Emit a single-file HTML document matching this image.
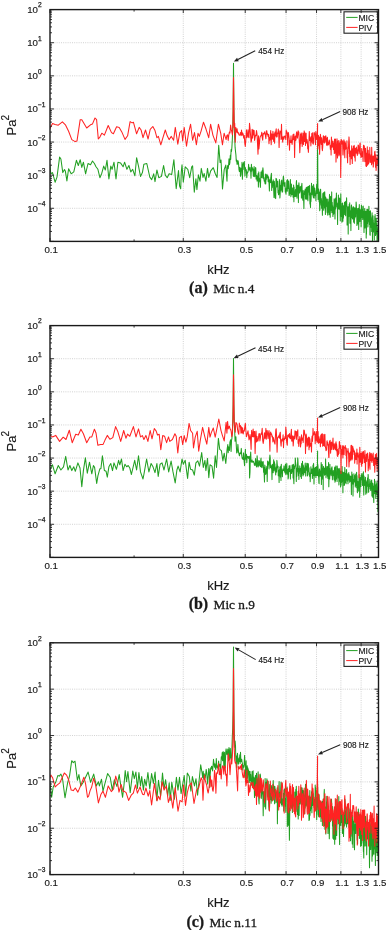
<!DOCTYPE html>
<html><head><meta charset="utf-8"><style>
html,body{margin:0;padding:0;background:#fff;width:388px;height:930px;overflow:hidden}
svg{display:block;filter:blur(0.3px)}
text{font-family:"Liberation Sans",sans-serif;fill:#1a1a1a;stroke:#1a1a1a;stroke-width:0.25px}
.tl{font-size:9.7px;stroke-width:0.15px}
.ts{font-size:6.6px}
.al{font-size:13px;stroke-width:0.15px}
.sup{font-size:10px}
.lg{font-size:8.6px;stroke-width:0.15px}
.an{font-size:8.2px;stroke-width:0.15px}
.cap{font-family:"Liberation Serif",serif;font-size:13.3px;stroke-width:0.3px}
.capb{font-family:"Liberation Serif",serif;font-size:16px;font-weight:bold;stroke-width:0.3px}
</style></head><body>
<svg width="388" height="930" viewBox="0 0 388 930">
<line x1="50.0" y1="208.29" x2="378.5" y2="208.29" stroke="#c6c6c6" stroke-width="0.8" stroke-dasharray="1 1.2"/>
<line x1="50.0" y1="175.17" x2="378.5" y2="175.17" stroke="#c6c6c6" stroke-width="0.8" stroke-dasharray="1 1.2"/>
<line x1="50.0" y1="142.06" x2="378.5" y2="142.06" stroke="#c6c6c6" stroke-width="0.8" stroke-dasharray="1 1.2"/>
<line x1="50.0" y1="108.94" x2="378.5" y2="108.94" stroke="#c6c6c6" stroke-width="0.8" stroke-dasharray="1 1.2"/>
<line x1="50.0" y1="75.83" x2="378.5" y2="75.83" stroke="#c6c6c6" stroke-width="0.8" stroke-dasharray="1 1.2"/>
<line x1="50.0" y1="42.71" x2="378.5" y2="42.71" stroke="#c6c6c6" stroke-width="0.8" stroke-dasharray="1 1.2"/>
<line x1="183.27" y1="9.6" x2="183.27" y2="241.4" stroke="#c6c6c6" stroke-width="0.8" stroke-dasharray="1 1.2"/>
<line x1="245.23" y1="9.6" x2="245.23" y2="241.4" stroke="#c6c6c6" stroke-width="0.8" stroke-dasharray="1 1.2"/>
<line x1="286.05" y1="9.6" x2="286.05" y2="241.4" stroke="#c6c6c6" stroke-width="0.8" stroke-dasharray="1 1.2"/>
<line x1="316.53" y1="9.6" x2="316.53" y2="241.4" stroke="#c6c6c6" stroke-width="0.8" stroke-dasharray="1 1.2"/>
<line x1="340.88" y1="9.6" x2="340.88" y2="241.4" stroke="#c6c6c6" stroke-width="0.8" stroke-dasharray="1 1.2"/>
<line x1="361.14" y1="9.6" x2="361.14" y2="241.4" stroke="#c6c6c6" stroke-width="0.8" stroke-dasharray="1 1.2"/>
<line x1="50.0" y1="524.29" x2="378.5" y2="524.29" stroke="#c6c6c6" stroke-width="0.8" stroke-dasharray="1 1.2"/>
<line x1="50.0" y1="491.17" x2="378.5" y2="491.17" stroke="#c6c6c6" stroke-width="0.8" stroke-dasharray="1 1.2"/>
<line x1="50.0" y1="458.06" x2="378.5" y2="458.06" stroke="#c6c6c6" stroke-width="0.8" stroke-dasharray="1 1.2"/>
<line x1="50.0" y1="424.94" x2="378.5" y2="424.94" stroke="#c6c6c6" stroke-width="0.8" stroke-dasharray="1 1.2"/>
<line x1="50.0" y1="391.83" x2="378.5" y2="391.83" stroke="#c6c6c6" stroke-width="0.8" stroke-dasharray="1 1.2"/>
<line x1="50.0" y1="358.71" x2="378.5" y2="358.71" stroke="#c6c6c6" stroke-width="0.8" stroke-dasharray="1 1.2"/>
<line x1="183.27" y1="325.6" x2="183.27" y2="557.4" stroke="#c6c6c6" stroke-width="0.8" stroke-dasharray="1 1.2"/>
<line x1="245.23" y1="325.6" x2="245.23" y2="557.4" stroke="#c6c6c6" stroke-width="0.8" stroke-dasharray="1 1.2"/>
<line x1="286.05" y1="325.6" x2="286.05" y2="557.4" stroke="#c6c6c6" stroke-width="0.8" stroke-dasharray="1 1.2"/>
<line x1="316.53" y1="325.6" x2="316.53" y2="557.4" stroke="#c6c6c6" stroke-width="0.8" stroke-dasharray="1 1.2"/>
<line x1="340.88" y1="325.6" x2="340.88" y2="557.4" stroke="#c6c6c6" stroke-width="0.8" stroke-dasharray="1 1.2"/>
<line x1="361.14" y1="325.6" x2="361.14" y2="557.4" stroke="#c6c6c6" stroke-width="0.8" stroke-dasharray="1 1.2"/>
<line x1="50.0" y1="828.24" x2="378.5" y2="828.24" stroke="#c6c6c6" stroke-width="0.8" stroke-dasharray="1 1.2"/>
<line x1="50.0" y1="781.88" x2="378.5" y2="781.88" stroke="#c6c6c6" stroke-width="0.8" stroke-dasharray="1 1.2"/>
<line x1="50.0" y1="735.52" x2="378.5" y2="735.52" stroke="#c6c6c6" stroke-width="0.8" stroke-dasharray="1 1.2"/>
<line x1="50.0" y1="689.16" x2="378.5" y2="689.16" stroke="#c6c6c6" stroke-width="0.8" stroke-dasharray="1 1.2"/>
<line x1="183.27" y1="642.8" x2="183.27" y2="874.6" stroke="#c6c6c6" stroke-width="0.8" stroke-dasharray="1 1.2"/>
<line x1="245.23" y1="642.8" x2="245.23" y2="874.6" stroke="#c6c6c6" stroke-width="0.8" stroke-dasharray="1 1.2"/>
<line x1="286.05" y1="642.8" x2="286.05" y2="874.6" stroke="#c6c6c6" stroke-width="0.8" stroke-dasharray="1 1.2"/>
<line x1="316.53" y1="642.8" x2="316.53" y2="874.6" stroke="#c6c6c6" stroke-width="0.8" stroke-dasharray="1 1.2"/>
<line x1="340.88" y1="642.8" x2="340.88" y2="874.6" stroke="#c6c6c6" stroke-width="0.8" stroke-dasharray="1 1.2"/>
<line x1="361.14" y1="642.8" x2="361.14" y2="874.6" stroke="#c6c6c6" stroke-width="0.8" stroke-dasharray="1 1.2"/>
<clipPath id="c0"><rect x="50.0" y="9.6" width="328.5" height="231.8"/></clipPath>
<g clip-path="url(#c0)" fill="none" stroke-width="1.05" stroke-linejoin="round">
<path d="M49.9 166.1L50.8 173.8L52.5 172.6L55.1 182.2L57.0 177.1L59.6 157.1L60.9 159.0L62.8 172.6L64.5 169.6L65.4 171.3L66.9 180.9L68.6 168.7L71.2 173.8L73.8 171.9L76.4 160.3L78.3 165.5L80.2 159.7L81.8 167.4L83.4 162.2L85.6 173.8L88.0 163.5L90.5 164.8L92.5 161.0L94.4 163.5L96.0 166.8L97.9 169.3L99.9 177.7L101.8 173.2L103.7 166.1L105.3 170.0L107.0 160.3L108.9 179.0L110.8 166.1L112.1 169.3L114.0 162.2L116.0 179.0L117.9 162.2L120.5 162.9L123.1 166.8L124.6 162.2L126.9 169.3L128.9 165.5L130.8 171.9L132.7 169.3L134.9 175.8L136.6 157.7L138.5 166.1L140.5 176.4L142.4 172.6L143.9 164.2L146.8 163.5L149.8 177.1L151.7 179.6L153.7 173.8L155.0 181.6L156.9 170.0L158.8 177.7L161.4 176.4L163.6 165.5L165.3 175.1L167.2 177.7L169.1 173.8L171.7 174.5L173.9 159.7L176.2 188.7L178.5 170.6L179.6 186.0L180.7 188.7L181.3 172.0L182.0 164.8L183.3 182.2L185.2 166.8L187.8 169.3L189.7 177.7L191.7 166.8L192.6 165.8L194.3 192.2L195.9 178.7L196.9 189.6L198.4 174.8L200.0 181.2L201.3 168.4L203.0 177.4L204.2 173.5L205.9 181.2L207.5 168.4L208.8 177.4L210.7 170.9L213.3 167.7L215.2 173.5L217.1 177.4L218.7 145.2L220.1 162.6L221.0 160.0L222.5 189.0L224.2 169.6L225.8 165.1L227.0 181.2L227.4 167.1L227.8 165.4L228.2 168.7L228.6 165.4L229.0 158.7L229.5 164.6L229.9 162.3L230.3 155.3L230.7 159.5L231.1 149.6L231.5 151.5L231.9 147.3L232.3 139.7L232.7 128.9L233.1 110.0L233.5 63.3L233.5 63.3L233.9 110.0L234.3 128.4L234.7 137.7L235.1 147.4L235.5 151.2L235.9 154.7L236.3 161.1L236.7 160.1L237.1 164.5L237.5 163.3L237.9 160.6L238.2 161.3L238.6 164.4L239.0 169.6L239.4 171.6L239.8 167.2L240.2 168.1L240.5 176.3L240.9 174.7L241.3 168.4L241.7 170.7L242.0 162.3L242.4 179.2L242.8 164.0L243.2 169.6L243.5 162.7L243.9 163.8L244.3 161.6L244.6 168.5L245.0 176.1L245.4 167.6L245.7 170.2L246.1 169.5L246.4 170.9L246.8 177.7L247.2 172.1L247.5 172.9L247.9 172.1L248.2 170.8L248.6 164.3L248.9 169.5L249.3 170.0L249.6 169.4L250.0 167.4L250.3 171.1L250.7 170.9L251.0 178.2L251.4 164.3L251.7 171.2L252.1 167.2L252.4 168.7L252.8 168.8L253.1 172.3L253.4 176.5L253.8 170.7L254.1 166.6L254.5 176.3L254.8 176.7L255.1 173.4L255.5 167.6L255.8 168.1L256.1 179.1L256.5 176.1L256.8 175.6L257.1 181.2L257.5 179.5L257.8 178.2L258.1 173.6L258.4 187.1L258.8 171.9L259.1 179.6L259.4 178.0L259.7 181.9L260.1 181.4L260.4 187.4L260.7 178.5L261.0 172.0L261.3 177.4L261.7 177.3L262.0 170.7L262.3 177.9L262.6 171.2L262.9 167.7L263.2 170.7L263.6 178.8L263.9 177.6L264.2 181.2L264.5 180.9L264.8 181.8L265.1 183.8L265.4 174.1L265.7 184.0L266.0 178.2L266.3 179.4L266.6 174.9L266.9 174.3L267.2 177.7L267.6 175.4L267.9 177.0L268.2 181.8L268.5 176.8L268.8 179.4L269.1 184.3L269.4 191.1L269.7 179.7L269.9 180.2L270.2 181.3L270.5 182.7L270.8 177.6L271.1 175.8L271.4 173.2L271.7 190.4L272.0 181.5L272.3 187.7L272.6 184.7L272.9 184.0L273.2 179.8L273.5 182.8L273.7 190.3L274.0 197.5L274.3 181.3L274.6 185.3L274.9 190.5L275.2 198.0L275.5 195.5L275.7 198.6L276.0 178.4L276.3 179.9L276.6 178.9L276.9 186.9L277.2 183.4L277.4 182.1L277.7 181.3L278.0 192.7L278.3 190.2L278.5 194.8L278.8 194.0L279.1 193.3L279.4 179.5L279.6 183.9L279.9 197.9L280.2 193.3L280.5 185.4L280.7 190.9L281.0 184.8L281.3 180.7L281.5 190.0L281.8 180.0L282.1 192.0L282.4 186.5L282.6 192.1L282.9 184.1L283.2 177.9L283.4 176.1L283.7 179.0L284.0 183.8L284.2 186.3L284.5 185.5L284.7 185.8L285.0 182.6L285.3 192.0L285.5 189.9L285.8 193.0L286.0 194.2L286.3 188.1L286.6 191.1L286.8 180.5L287.1 187.1L287.3 191.2L287.6 179.5L287.9 183.9L288.1 188.4L288.4 183.7L288.6 181.1L288.9 189.3L289.1 195.5L289.4 194.4L289.6 188.9L289.9 193.4L290.1 186.0L290.4 179.6L290.6 190.8L290.9 196.6L291.1 187.7L291.4 184.0L291.6 188.5L291.9 194.6L292.1 191.0L292.4 187.9L292.6 194.5L292.9 194.3L293.1 197.3L293.4 195.8L293.6 185.0L293.9 201.7L294.1 187.0L294.3 194.6L294.6 195.9L294.8 196.4L295.1 195.7L295.3 191.4L295.5 189.6L295.8 196.6L296.0 194.5L296.3 182.8L296.5 180.6L296.7 190.6L297.0 198.3L297.2 192.4L297.5 190.5L297.7 185.3L297.9 189.2L298.2 185.4L298.4 202.6L298.6 188.2L298.9 182.7L299.1 185.6L299.3 187.1L299.6 193.0L299.8 192.3L300.0 191.6L300.3 186.8L300.5 190.7L300.7 189.8L301.0 186.3L301.2 188.1L301.4 198.1L301.6 186.0L301.9 183.3L302.1 189.0L302.3 193.6L302.5 197.8L302.8 200.3L303.0 194.7L303.2 190.5L303.5 194.9L303.7 202.0L303.9 208.6L304.1 194.8L304.4 194.6L304.6 190.9L304.8 192.2L305.0 193.9L305.2 189.1L305.5 199.0L305.7 190.8L305.9 194.2L306.1 193.7L306.3 187.3L306.6 199.3L306.8 189.3L307.0 188.6L307.2 199.1L307.4 187.3L307.7 186.9L307.9 200.7L308.1 192.1L308.3 192.2L308.5 186.2L308.7 191.9L309.0 188.7L309.2 186.4L309.4 194.9L309.6 185.4L309.8 199.2L310.0 203.9L310.2 201.8L310.5 207.5L310.7 193.0L310.9 201.6L311.1 198.5L311.3 193.4L311.5 183.2L311.7 194.6L311.9 191.6L312.1 192.1L312.4 186.0L312.6 194.2L312.8 190.0L313.0 195.9L313.2 189.3L313.4 197.8L313.6 184.5L313.8 187.1L314.0 191.1L314.2 198.1L314.4 189.9L314.6 188.0L314.8 190.8L315.0 193.7L315.2 195.8L315.5 193.7L315.7 194.8L315.9 200.8L316.1 191.7L316.3 189.9L316.5 187.5L316.7 184.4L316.9 193.6L317.1 192.6L317.3 188.7L317.6 135.0L317.5 169.7L317.7 152.8L317.9 184.3L318.1 199.5L318.3 194.5L318.5 188.9L318.7 190.0L318.9 197.0L319.1 201.8L319.3 192.0L319.5 200.1L319.7 210.7L319.9 209.9L320.1 196.8L320.3 193.8L320.4 189.5L320.6 189.2L320.8 194.2L321.0 201.8L321.2 205.1L321.4 198.5L321.6 208.3L321.8 200.7L322.0 206.6L322.2 206.3L322.4 215.2L322.6 202.4L322.8 193.6L323.0 204.9L323.2 193.1L323.3 198.2L323.5 198.1L323.7 210.3L323.9 192.6L324.1 199.8L324.3 204.9L324.5 207.9L324.7 191.8L324.9 196.7L325.1 196.3L325.2 200.0L325.4 214.4L325.6 201.9L325.8 197.4L326.0 206.6L326.2 200.8L326.4 204.5L326.6 201.0L326.7 199.1L326.9 206.4L327.1 211.9L327.3 212.8L327.5 203.2L327.7 215.1L327.9 199.1L328.0 200.5L328.2 212.0L328.4 205.8L328.6 212.1L328.8 202.0L329.0 202.5L329.1 214.8L329.3 202.4L329.5 194.4L329.7 207.1L329.9 202.9L330.0 201.2L330.2 217.2L330.4 208.9L330.6 196.4L330.8 206.5L330.9 204.9L331.1 210.4L331.3 202.5L331.5 201.3L331.7 191.9L331.8 212.6L332.0 210.1L332.2 202.2L332.4 206.9L332.5 209.1L332.7 205.8L332.9 216.5L333.1 207.2L333.3 214.4L333.4 207.8L333.6 209.2L333.8 213.7L334.0 203.7L334.1 198.8L334.3 201.2L334.5 205.0L334.7 208.9L334.8 208.3L335.0 219.0L335.2 202.2L335.3 198.8L335.5 209.1L335.7 199.8L335.9 199.1L336.0 197.5L336.2 203.7L336.4 193.0L336.6 201.4L336.7 207.0L336.9 202.9L337.1 203.1L337.2 205.8L337.4 208.2L337.6 224.5L337.7 208.3L337.9 206.0L338.1 206.0L338.3 201.5L338.4 195.1L338.6 207.0L338.8 209.0L338.9 203.0L339.1 209.2L339.3 201.8L339.4 208.4L339.6 198.0L339.8 204.9L339.9 199.5L340.1 208.9L340.3 220.8L340.4 210.0L340.6 205.0L340.8 193.8L340.9 202.1L341.1 207.2L341.3 213.2L341.4 216.4L341.6 207.1L341.8 215.5L341.9 222.3L342.1 207.8L342.2 203.3L342.4 205.9L342.6 203.1L342.7 208.1L342.9 221.2L343.1 205.5L343.2 215.9L343.4 215.9L343.5 217.9L343.7 205.9L343.9 211.4L344.0 210.1L344.2 208.6L344.4 206.3L344.5 202.3L344.7 214.6L344.8 207.9L345.0 206.7L345.2 214.3L345.3 201.8L345.5 207.1L345.6 215.7L345.8 204.3L346.0 201.1L346.1 206.2L346.3 203.4L346.4 202.3L346.6 197.8L346.7 203.9L346.9 206.0L347.1 225.1L347.2 220.5L347.4 216.4L347.5 207.4L347.7 220.0L347.8 206.9L348.0 207.5L348.2 234.1L348.3 219.4L348.5 206.8L348.6 210.8L348.8 211.2L348.9 216.4L349.1 212.3L349.2 204.4L349.4 208.5L349.5 207.7L349.7 202.7L349.9 223.3L350.0 210.8L350.2 217.7L350.3 211.6L350.5 210.9L350.6 218.7L350.8 221.9L350.9 230.6L351.1 209.9L351.2 206.7L351.4 205.2L351.5 205.0L351.7 217.5L351.8 212.2L352.0 207.5L352.1 212.8L352.3 215.8L352.4 218.9L352.6 218.8L352.7 215.9L352.9 208.8L353.0 212.3L353.2 206.5L353.3 212.8L353.5 207.3L353.6 222.1L353.8 222.1L353.9 221.5L354.1 211.5L354.2 213.5L354.4 223.3L354.5 207.8L354.7 218.9L354.8 212.3L355.0 215.4L355.1 208.0L355.3 211.4L355.4 215.5L355.6 217.0L355.7 213.8L355.8 212.3L356.0 207.8L356.1 202.0L356.3 204.6L356.4 206.0L356.6 214.1L356.7 210.3L356.9 225.5L357.0 221.5L357.2 223.9L357.3 213.7L357.4 222.9L357.6 208.5L357.7 222.9L357.9 209.3L358.0 224.0L358.2 222.4L358.3 217.7L358.5 208.2L358.6 214.3L358.7 229.4L358.9 211.9L359.0 210.6L359.2 210.6L359.3 204.5L359.4 210.1L359.6 211.3L359.7 218.8L359.9 221.7L360.0 212.8L360.2 209.6L360.3 210.9L360.4 218.3L360.6 211.2L360.7 212.3L360.9 215.8L361.0 213.0L361.1 226.7L361.3 213.4L361.4 205.0L361.6 214.8L361.7 213.7L361.8 206.2L362.0 211.7L362.1 217.4L362.3 209.3L362.4 212.5L362.5 210.6L362.7 219.5L362.8 213.3L362.9 214.6L363.1 211.5L363.2 206.0L363.4 212.9L363.5 215.8L363.6 212.2L363.8 218.4L363.9 224.8L364.0 232.5L364.2 213.3L364.3 211.3L364.5 212.9L364.6 212.2L364.7 208.5L364.9 212.1L365.0 227.9L365.1 223.7L365.3 218.6L365.4 222.6L365.5 213.9L365.7 224.8L365.8 227.0L365.9 211.3L366.1 217.4L366.2 238.1L366.3 222.9L366.5 234.0L366.6 219.8L366.7 217.2L366.9 209.3L367.0 221.8L367.1 223.4L367.3 218.6L367.4 210.2L367.5 212.6L367.7 216.0L367.8 209.4L367.9 226.9L368.1 223.2L368.2 216.5L368.3 212.7L368.5 219.7L368.6 218.7L368.7 221.1L368.9 206.3L369.0 212.2L369.1 213.2L369.3 222.3L369.4 211.2L369.5 224.4L369.7 217.7L369.8 213.4L369.9 234.7L370.0 221.9L370.2 235.2L370.3 217.0L370.4 210.8L370.6 214.7L370.7 218.1L370.8 216.7L371.0 218.9L371.1 227.3L371.2 221.6L371.3 219.4L371.5 219.7L371.6 225.2L371.7 231.4L371.9 222.8L372.0 223.7L372.1 212.8L372.2 230.7L372.4 222.6L372.5 243.9L372.6 224.2L372.7 220.2L372.9 225.6L373.0 215.8L373.1 219.7L373.3 220.1L373.4 230.4L373.5 231.7L373.6 231.9L373.8 223.4L373.9 223.3L374.0 227.7L374.1 227.5L374.3 239.9L374.4 228.8L374.5 229.1L374.6 227.7L374.8 216.2L374.9 227.7L375.0 222.3L375.1 214.5L375.3 219.9L375.4 224.0L375.5 235.5L375.6 225.8L375.8 232.2L375.9 234.3L376.0 228.5L376.1 225.8L376.3 218.2L376.4 230.7L376.5 223.6L376.6 230.5L376.7 223.3L376.9 229.8L377.0 237.4L377.1 244.2L377.2 245.6L377.4 234.4L377.5 233.1L377.6 235.5L377.7 239.1L377.9 231.8L378.0 227.4L378.1 233.8L378.2 231.8L378.3 218.4L378.5 233.2" stroke="#22a022"/>
<path d="M49.5 129.3L52.5 123.5L55.1 124.4L58.3 125.2L62.4 121.9L65.4 124.8L68.6 131.3L71.8 139.6L75.1 141.6L77.0 140.9L80.2 119.7L81.8 119.7L86.7 128.0L90.5 124.8L92.5 123.9L95.0 118.0L96.6 119.7L98.3 139.0L99.9 137.1L101.8 133.2L104.4 135.1L108.2 125.5L111.5 132.6L113.4 133.8L116.6 126.8L119.2 127.4L121.8 131.9L125.0 139.4L127.6 135.8L130.1 121.6L132.1 122.9L133.4 122.2L136.6 133.8L139.2 127.4L141.1 130.0L143.0 137.7L145.5 130.0L148.1 139.0L150.2 129.3L152.8 126.5L155.0 130.6L156.9 137.7L158.4 136.4L160.8 144.8L163.1 137.1L165.3 130.0L167.2 135.8L169.1 139.6L171.3 136.4L173.6 140.3L175.3 127.4L177.8 144.2L179.8 132.6L181.6 130.6L182.7 140.9L184.2 127.4L186.5 146.1L188.5 133.2L190.6 124.2L192.6 140.3L194.5 132.6L196.4 144.8L198.0 133.2L199.3 136.4L201.0 131.3L203.5 122.2L206.1 129.3L208.7 137.7L210.6 124.2L212.9 135.1L215.8 142.9L218.4 124.2L220.7 133.2L222.5 144.8L224.1 133.2L226.1 139.6L226.9 135.4L227.6 134.8L228.2 140.4L228.8 135.1L229.4 132.1L230.0 133.0L230.6 125.0L231.2 129.4L231.8 131.8L232.4 134.9L233.0 124.3L233.5 77.6L233.6 82.6L234.2 127.4L234.7 123.2L235.3 142.3L235.9 127.6L236.5 132.1L237.1 128.8L237.6 132.9L238.2 132.4L238.8 134.4L239.3 135.3L239.9 134.7L240.4 132.5L241.0 135.7L241.5 130.1L242.1 135.3L242.6 132.9L243.2 134.3L243.7 138.1L244.3 135.6L244.8 143.3L245.3 146.5L245.9 138.8L246.4 129.8L246.9 137.7L247.4 136.1L248.0 129.8L248.5 136.9L249.0 137.7L249.5 123.3L250.0 128.3L250.5 134.5L251.1 142.2L251.6 139.8L252.1 129.3L252.6 138.1L253.1 129.9L253.6 134.9L254.1 130.4L254.6 140.4L255.1 137.3L255.6 135.0L256.0 135.6L256.5 130.5L257.0 134.0L257.5 142.9L258.0 154.3L258.5 135.7L258.9 148.9L259.4 144.1L259.9 138.1L260.4 136.0L260.8 136.1L261.3 135.1L261.8 132.2L262.2 137.3L262.7 140.2L263.2 133.4L263.6 134.0L264.1 134.0L264.5 131.8L265.0 133.5L265.4 135.5L265.9 138.8L266.3 131.0L266.8 130.8L267.2 134.5L267.7 133.8L268.1 136.4L268.6 134.6L269.0 143.7L269.4 137.5L269.9 140.2L270.3 135.6L270.7 130.6L271.2 144.7L271.6 133.9L272.0 136.7L272.5 139.3L272.9 131.3L273.3 135.9L273.7 141.5L274.2 133.8L274.6 143.3L275.0 132.0L275.4 136.3L275.8 131.5L276.2 128.8L276.6 137.0L277.1 136.7L277.5 132.7L277.9 133.4L278.3 129.1L278.7 134.0L279.1 147.6L279.5 135.3L279.9 130.8L280.3 131.5L280.7 131.6L281.1 139.5L281.5 124.2L281.9 138.8L282.3 137.5L282.7 142.2L283.1 136.2L283.5 139.2L283.8 139.0L284.2 137.5L284.6 136.2L285.0 136.0L285.4 136.5L285.8 139.8L286.2 130.0L286.5 132.5L286.9 131.7L287.3 134.5L287.7 145.0L288.0 133.1L288.4 132.6L288.8 135.9L289.2 138.9L289.5 150.3L289.9 140.7L290.3 141.5L290.6 142.5L291.0 135.8L291.4 142.8L291.7 140.4L292.1 144.4L292.5 139.6L292.8 135.9L293.2 134.4L293.5 139.7L293.9 134.0L294.3 140.0L294.6 157.5L295.0 137.7L295.3 136.0L295.7 140.6L296.0 139.9L296.4 133.4L296.7 131.9L297.1 134.6L297.4 138.1L297.8 135.0L298.1 130.8L298.5 134.1L298.8 131.9L299.1 138.2L299.5 143.8L299.8 152.8L300.2 145.1L300.5 134.1L300.8 143.8L301.2 132.9L301.5 134.7L301.9 139.1L302.2 146.5L302.5 142.5L302.9 133.1L303.2 134.6L303.5 144.4L303.8 138.1L304.2 130.9L304.5 141.5L304.8 132.4L305.2 136.9L305.5 145.4L305.8 135.1L306.1 133.2L306.4 143.1L306.8 139.2L307.1 139.7L307.4 142.0L307.7 148.8L308.0 146.5L308.4 152.4L308.7 145.2L309.0 139.3L309.3 131.6L309.6 140.6L309.9 137.1L310.3 139.3L310.6 139.8L310.9 145.9L311.2 136.5L311.5 142.2L311.8 133.5L312.1 135.1L312.4 132.7L312.7 143.2L313.0 137.9L313.3 144.3L313.6 140.9L313.9 133.4L314.2 132.4L314.6 134.5L314.9 133.8L315.2 139.0L315.5 144.8L315.8 131.6L316.0 132.2L316.3 138.8L316.6 139.4L316.9 134.7L317.2 138.7L317.6 123.5L317.5 138.3L317.8 149.3L318.1 145.2L318.4 135.3L318.7 138.8L319.0 145.4L319.3 136.9L319.6 154.3L319.9 145.8L320.1 143.7L320.4 134.3L320.7 136.9L321.0 138.8L321.3 144.4L321.6 137.7L321.9 140.2L322.1 148.4L322.4 150.7L322.7 147.3L323.0 141.0L323.3 135.7L323.6 136.0L323.8 142.2L324.1 139.7L324.4 136.6L324.7 143.1L324.9 138.7L325.2 141.9L325.5 136.7L325.8 135.7L326.0 137.3L326.3 138.5L326.6 144.9L326.9 145.0L327.1 145.6L327.4 137.3L327.7 141.4L327.9 142.5L328.2 144.9L328.5 144.5L328.8 143.2L329.0 141.8L329.3 140.0L329.6 142.7L329.8 144.4L330.1 145.5L330.4 149.5L330.6 146.1L330.9 146.5L331.1 155.0L331.4 137.1L331.7 144.1L331.9 139.7L332.2 147.2L332.5 143.0L332.7 146.6L333.0 141.2L333.2 145.8L333.5 149.6L333.7 144.1L334.0 143.1L334.3 153.5L334.5 139.0L334.8 141.5L335.0 146.5L335.3 152.9L335.5 139.1L335.8 145.2L336.0 162.1L336.3 153.0L336.5 155.0L336.8 144.7L337.0 138.7L337.3 145.7L337.5 158.0L337.8 149.0L338.0 142.4L338.3 140.6L338.5 145.4L338.8 154.9L339.0 155.9L339.3 153.6L339.5 142.8L339.8 146.2L340.0 140.9L340.3 154.7L340.5 146.5L340.7 177.4L341.0 156.7L341.2 139.3L341.5 142.0L341.7 143.9L342.0 140.4L342.2 143.7L342.4 141.1L342.7 145.8L342.9 154.6L343.1 155.1L343.4 147.7L343.6 141.6L343.9 139.8L344.1 140.9L344.3 146.6L344.6 151.7L344.8 157.8L345.0 141.7L345.3 143.7L345.5 143.3L345.7 149.2L346.0 148.5L346.2 148.5L346.4 148.1L346.7 148.2L346.9 140.7L347.1 157.8L347.4 152.9L347.6 162.7L347.8 151.6L348.0 153.8L348.3 147.0L348.5 148.5L348.7 141.8L349.0 136.9L349.2 139.7L349.4 144.4L349.6 156.5L349.9 151.3L350.1 164.4L350.3 152.5L350.5 156.5L350.8 155.3L351.0 150.3L351.2 151.2L351.4 158.8L351.7 145.8L351.9 157.2L352.1 152.9L352.3 163.4L352.5 148.7L352.8 152.6L353.0 155.4L353.2 153.3L353.4 146.4L353.6 146.8L353.9 155.9L354.1 145.3L354.3 146.0L354.5 150.2L354.7 157.6L354.9 150.4L355.2 161.1L355.4 148.2L355.6 150.7L355.8 150.8L356.0 153.0L356.2 150.4L356.4 147.0L356.7 153.1L356.9 151.1L357.1 152.3L357.3 155.5L357.5 153.7L357.7 149.1L357.9 150.8L358.1 145.0L358.3 145.3L358.6 145.9L358.8 150.7L359.0 154.0L359.2 152.6L359.4 149.5L359.6 151.8L359.8 145.4L360.0 143.0L360.2 143.0L360.4 153.4L360.6 155.1L360.8 153.7L361.0 157.6L361.3 156.2L361.5 155.3L361.7 148.5L361.9 151.9L362.1 156.4L362.3 153.2L362.5 151.8L362.7 156.2L362.9 157.6L363.1 161.5L363.3 150.6L363.5 145.2L363.7 145.3L363.9 149.3L364.1 146.6L364.3 145.9L364.5 149.5L364.7 158.1L364.9 161.8L365.1 159.2L365.3 155.2L365.5 148.2L365.7 152.8L365.9 166.0L366.1 161.3L366.3 161.4L366.5 166.5L366.7 153.0L366.9 154.3L367.1 155.9L367.3 146.7L367.5 165.3L367.6 162.8L367.8 160.4L368.0 161.2L368.2 150.3L368.4 164.1L368.6 159.8L368.8 163.3L369.0 157.2L369.2 153.9L369.4 157.6L369.6 158.7L369.8 147.4L370.0 158.6L370.1 162.2L370.3 162.4L370.5 160.6L370.7 160.0L370.9 159.1L371.1 154.8L371.3 155.2L371.5 164.7L371.7 147.3L371.9 155.4L372.0 162.1L372.2 162.0L372.4 157.4L372.6 160.4L372.8 163.9L373.0 156.0L373.2 167.1L373.3 166.9L373.5 162.4L373.7 156.0L373.9 158.4L374.1 161.0L374.3 161.2L374.5 156.3L374.6 152.4L374.8 151.7L375.0 151.2L375.2 160.4L375.4 164.0L375.6 167.4L375.7 159.2L375.9 154.8L376.1 170.5L376.3 167.3L376.5 161.0L376.6 158.1L376.8 164.5L377.0 164.3L377.2 160.2L377.4 158.8L377.5 159.6L377.7 163.4L377.9 155.3L378.1 161.0L378.3 165.3L378.4 172.9" stroke="#f22"/>
</g>
<clipPath id="c1"><rect x="50.0" y="325.6" width="328.5" height="231.79999999999995"/></clipPath>
<g clip-path="url(#c1)" fill="none" stroke-width="1.05" stroke-linejoin="round">
<path d="M49.9 470.0L52.5 464.8L55.1 473.8L58.3 465.5L60.9 470.0L63.5 466.8L65.7 456.4L68.0 470.0L69.9 465.5L71.8 470.6L73.8 466.8L75.3 471.3L77.9 462.9L80.0 468.0L81.8 486.7L83.4 470.6L85.4 457.7L87.3 473.2L89.5 462.2L91.8 473.8L93.4 465.5L94.6 467.4L96.7 483.5L97.9 475.8L99.9 468.7L100.9 468.7L102.4 455.8L104.4 470.6L106.1 471.3L107.3 477.1L108.9 466.8L110.8 463.5L112.5 470.6L114.0 462.9L116.4 469.3L118.6 460.3L119.8 464.8L121.5 459.0L123.1 470.6L125.0 464.2L126.7 466.8L128.2 465.5L129.8 468.0L131.4 474.5L134.7 460.3L136.6 470.0L138.5 455.8L140.5 471.9L143.0 479.0L144.0 473.8L146.6 459.0L148.9 471.9L151.1 463.5L153.0 466.8L155.0 472.6L156.9 463.5L158.2 476.4L160.1 464.2L162.0 462.9L164.0 470.0L166.6 459.0L168.7 471.9L171.1 461.0L173.0 471.9L175.2 482.9L176.9 470.0L178.1 466.1L180.1 471.9L182.0 459.0L183.3 464.2L185.2 460.3L187.6 478.4L189.1 462.2L190.6 469.3L192.6 470.0L194.3 475.1L195.9 462.9L197.8 460.9L199.5 466.1L201.7 452.6L203.3 467.4L204.9 460.3L205.9 470.6L207.5 458.4L208.8 477.7L210.0 464.8L212.0 466.1L213.6 478.3L215.2 455.8L216.5 467.4L218.4 438.4L219.7 449.3L221.4 450.6L222.9 460.9L224.2 453.2L225.8 463.5L227.1 449.3L227.8 444.5L228.2 452.7L228.6 446.8L229.0 448.2L229.5 450.4L229.9 442.3L230.3 440.9L230.7 439.8L231.1 451.4L231.5 440.5L231.9 438.7L232.3 431.9L232.7 424.1L233.1 405.1L233.5 358.6L233.5 358.6L233.9 405.0L234.3 422.6L234.7 431.5L235.1 441.2L235.5 439.1L235.9 436.7L236.3 445.8L236.7 452.9L237.1 452.4L237.5 450.1L237.9 444.4L238.2 448.5L238.6 452.5L239.0 453.8L239.4 455.8L239.8 453.3L240.2 452.9L240.5 452.8L240.9 453.8L241.3 448.4L241.7 455.2L242.0 457.1L242.4 459.0L242.8 457.7L243.2 459.5L243.5 452.9L243.9 459.0L244.3 462.9L244.6 465.7L245.0 455.8L245.4 449.2L245.7 459.1L246.1 458.3L246.4 454.2L246.8 462.8L247.2 456.2L247.5 457.9L247.9 456.4L248.2 456.8L248.6 458.4L248.9 457.2L249.3 456.2L249.6 477.9L250.0 471.9L250.3 458.7L250.7 452.1L251.0 460.0L251.4 462.1L251.7 460.5L252.1 460.0L252.4 462.1L252.8 462.2L253.1 461.8L253.4 461.2L253.8 462.5L254.1 463.2L254.5 465.3L254.8 463.2L255.1 465.5L255.5 458.6L255.8 461.3L256.1 463.5L256.5 467.0L256.8 464.2L257.1 455.7L257.5 461.1L257.8 466.2L258.1 467.0L258.4 465.6L258.8 460.6L259.1 465.7L259.4 460.8L259.7 462.5L260.1 462.9L260.4 466.6L260.7 460.8L261.0 458.1L261.3 466.9L261.7 461.8L262.0 467.7L262.3 465.4L262.6 464.6L262.9 461.5L263.2 461.7L263.6 472.2L263.9 467.3L264.2 474.9L264.5 481.9L264.8 465.1L265.1 466.9L265.4 470.3L265.7 474.4L266.0 473.3L266.3 470.2L266.6 468.2L266.9 466.4L267.2 481.5L267.6 461.0L267.9 464.8L268.2 461.8L268.5 463.9L268.8 465.2L269.1 468.9L269.4 460.9L269.7 457.6L269.9 455.1L270.2 458.0L270.5 467.6L270.8 467.3L271.1 465.4L271.4 469.0L271.7 467.9L272.0 479.6L272.3 464.2L272.6 465.6L272.9 467.1L273.2 472.8L273.5 464.1L273.7 459.7L274.0 470.5L274.3 461.7L274.6 463.7L274.9 464.0L275.2 471.7L275.5 470.9L275.7 474.9L276.0 468.8L276.3 466.9L276.6 472.1L276.9 460.4L277.2 463.7L277.4 465.6L277.7 468.0L278.0 466.3L278.3 475.7L278.5 474.9L278.8 470.7L279.1 482.4L279.4 469.6L279.6 475.9L279.9 467.0L280.2 472.0L280.5 477.1L280.7 466.3L281.0 480.4L281.3 464.3L281.5 471.1L281.8 473.0L282.1 470.4L282.4 476.8L282.6 471.6L282.9 468.9L283.2 470.6L283.4 470.5L283.7 470.0L284.0 465.9L284.2 470.8L284.5 471.3L284.7 471.5L285.0 473.0L285.3 465.4L285.5 464.1L285.8 474.6L286.0 467.7L286.3 472.9L286.6 466.7L286.8 463.4L287.1 474.3L287.3 472.1L287.6 472.6L287.9 469.3L288.1 478.9L288.4 477.5L288.6 468.4L288.9 471.3L289.1 465.9L289.4 471.6L289.6 468.0L289.9 465.5L290.1 468.3L290.4 479.0L290.6 469.7L290.9 471.9L291.1 473.1L291.4 469.4L291.6 473.5L291.9 470.3L292.1 465.1L292.4 471.6L292.6 464.9L292.9 468.3L293.1 477.9L293.4 464.2L293.6 477.9L293.9 483.7L294.1 466.1L294.3 469.2L294.6 468.0L294.8 465.8L295.1 466.1L295.3 458.1L295.5 461.6L295.8 464.3L296.0 464.9L296.3 481.4L296.5 468.1L296.7 476.6L297.0 471.3L297.2 472.0L297.5 466.5L297.7 457.9L297.9 459.6L298.2 467.0L298.4 475.4L298.6 468.3L298.9 479.5L299.1 473.0L299.3 473.6L299.6 470.2L299.8 465.9L300.0 470.3L300.3 470.1L300.5 468.2L300.7 476.7L301.0 476.8L301.2 471.1L301.4 478.5L301.6 463.6L301.9 469.3L302.1 473.6L302.3 468.4L302.5 461.2L302.8 474.6L303.0 476.0L303.2 465.1L303.5 466.9L303.7 474.7L303.9 471.2L304.1 467.9L304.4 471.2L304.6 472.8L304.8 471.0L305.0 466.3L305.2 463.0L305.5 467.8L305.7 476.0L305.9 466.2L306.1 470.0L306.3 466.1L306.6 470.2L306.8 463.3L307.0 469.8L307.2 465.2L307.4 475.9L307.7 474.4L307.9 463.3L308.1 465.5L308.3 463.8L308.5 466.4L308.7 471.8L309.0 467.7L309.2 475.0L309.4 472.7L309.6 476.4L309.8 472.9L310.0 474.0L310.2 481.8L310.5 473.4L310.7 473.8L310.9 466.8L311.1 471.2L311.3 469.8L311.5 473.5L311.7 470.7L311.9 473.3L312.1 468.9L312.4 478.4L312.6 471.8L312.8 474.3L313.0 465.1L313.2 471.4L313.4 475.4L313.6 463.4L313.8 472.8L314.0 484.0L314.2 473.3L314.4 468.5L314.6 472.9L314.8 472.9L315.0 475.6L315.2 467.3L315.5 472.4L315.7 467.4L315.9 477.4L316.1 471.0L316.3 467.4L316.5 475.5L316.7 466.4L316.9 470.7L317.1 468.1L317.3 475.6L317.6 451.0L317.5 471.2L317.7 463.7L317.9 465.4L318.1 467.8L318.3 475.8L318.5 476.1L318.7 477.6L318.9 483.1L319.1 483.7L319.3 470.3L319.5 469.1L319.7 473.0L319.9 471.5L320.1 475.7L320.3 476.2L320.4 473.0L320.6 473.9L320.8 470.0L321.0 469.1L321.2 462.6L321.4 484.5L321.6 469.6L321.8 476.9L322.0 479.2L322.2 464.5L322.4 472.4L322.6 476.1L322.8 475.5L323.0 468.4L323.2 489.5L323.3 474.4L323.5 466.4L323.7 473.0L323.9 468.2L324.1 472.7L324.3 470.5L324.5 475.2L324.7 468.1L324.9 473.5L325.1 472.6L325.2 474.4L325.4 471.9L325.6 458.9L325.8 468.8L326.0 477.7L326.2 466.3L326.4 469.4L326.6 468.0L326.7 473.9L326.9 472.8L327.1 471.7L327.3 476.1L327.5 466.5L327.7 474.7L327.9 478.5L328.0 468.8L328.2 474.5L328.4 467.1L328.6 462.6L328.8 486.7L329.0 477.5L329.1 472.5L329.3 473.3L329.5 468.3L329.7 479.0L329.9 464.2L330.0 470.3L330.2 469.9L330.4 469.9L330.6 471.7L330.8 474.4L330.9 470.7L331.1 475.8L331.3 468.0L331.5 468.8L331.7 467.5L331.8 473.9L332.0 466.7L332.2 469.7L332.4 479.7L332.5 474.1L332.7 473.4L332.9 472.1L333.1 473.4L333.3 470.5L333.4 472.7L333.6 476.0L333.8 472.2L334.0 479.2L334.1 474.5L334.3 480.0L334.5 468.8L334.7 467.1L334.8 468.0L335.0 482.3L335.2 477.6L335.3 474.7L335.5 481.0L335.7 467.9L335.9 465.8L336.0 468.9L336.2 474.2L336.4 478.9L336.6 477.5L336.7 478.8L336.9 473.1L337.1 481.5L337.2 466.1L337.4 473.1L337.6 473.5L337.7 473.1L337.9 468.4L338.1 471.1L338.3 478.0L338.4 469.6L338.6 468.9L338.8 473.7L338.9 484.9L339.1 480.3L339.3 481.4L339.4 474.5L339.6 472.7L339.8 468.4L339.9 481.2L340.1 479.3L340.3 472.5L340.4 478.6L340.6 487.0L340.8 476.4L340.9 471.0L341.1 485.2L341.3 476.1L341.4 477.9L341.6 482.5L341.8 481.5L341.9 479.1L342.1 466.4L342.2 478.0L342.4 472.3L342.6 472.0L342.7 475.1L342.9 492.8L343.1 476.2L343.2 476.2L343.4 472.7L343.5 473.5L343.7 473.5L343.9 472.2L344.0 472.9L344.2 485.5L344.4 477.3L344.5 484.5L344.7 473.8L344.8 467.4L345.0 475.3L345.2 482.7L345.3 481.3L345.5 473.6L345.6 477.9L345.8 479.7L346.0 477.6L346.1 483.8L346.3 474.0L346.4 469.6L346.6 469.7L346.7 475.0L346.9 480.1L347.1 476.3L347.2 475.7L347.4 479.0L347.5 478.9L347.7 481.7L347.8 473.8L348.0 483.8L348.2 477.1L348.3 480.2L348.5 478.3L348.6 479.8L348.8 472.5L348.9 479.9L349.1 474.3L349.2 474.6L349.4 475.7L349.5 478.1L349.7 482.2L349.9 476.4L350.0 478.0L350.2 481.6L350.3 476.9L350.5 481.1L350.6 476.1L350.8 476.4L350.9 481.3L351.1 480.9L351.2 481.4L351.4 494.6L351.5 478.0L351.7 481.1L351.8 472.0L352.0 480.5L352.1 480.6L352.3 483.9L352.4 474.4L352.6 479.5L352.7 480.7L352.9 480.6L353.0 496.0L353.2 482.5L353.3 483.6L353.5 484.3L353.6 479.4L353.8 482.4L353.9 473.8L354.1 482.0L354.2 475.5L354.4 475.2L354.5 481.2L354.7 479.0L354.8 477.5L355.0 476.4L355.1 476.3L355.3 486.9L355.4 477.5L355.6 478.6L355.7 474.0L355.8 479.4L356.0 485.4L356.1 481.5L356.3 478.7L356.4 478.8L356.6 472.3L356.7 487.7L356.9 475.4L357.0 475.8L357.2 480.7L357.3 490.0L357.4 492.8L357.6 487.3L357.7 485.4L357.9 484.2L358.0 481.6L358.2 483.0L358.3 485.0L358.5 485.0L358.6 486.8L358.7 491.0L358.9 480.5L359.0 478.0L359.2 474.4L359.3 485.5L359.4 477.1L359.6 487.3L359.7 497.2L359.9 478.7L360.0 492.3L360.2 477.6L360.3 487.0L360.4 478.2L360.6 486.4L360.7 486.3L360.9 486.5L361.0 478.2L361.1 475.0L361.3 479.7L361.4 479.9L361.6 478.8L361.7 479.7L361.8 474.0L362.0 473.5L362.1 474.7L362.3 478.6L362.4 483.3L362.5 485.4L362.7 478.6L362.8 476.7L362.9 479.2L363.1 478.9L363.2 476.3L363.4 471.7L363.5 485.9L363.6 488.9L363.8 495.1L363.9 488.0L364.0 475.9L364.2 480.2L364.3 481.0L364.5 480.7L364.6 484.5L364.7 485.1L364.9 480.0L365.0 482.5L365.1 485.4L365.3 483.6L365.4 477.3L365.5 484.0L365.7 489.9L365.8 494.3L365.9 480.3L366.1 481.7L366.2 486.5L366.3 489.0L366.5 484.0L366.6 481.9L366.7 485.7L366.9 493.0L367.0 484.9L367.1 484.2L367.3 484.2L367.4 486.0L367.5 478.0L367.7 486.2L367.8 485.7L367.9 485.0L368.1 474.4L368.2 474.9L368.3 478.4L368.5 489.4L368.6 492.3L368.7 486.4L368.9 486.0L369.0 486.8L369.1 485.3L369.3 485.9L369.4 484.2L369.5 485.1L369.7 481.9L369.8 479.4L369.9 484.2L370.0 488.9L370.2 485.9L370.3 487.8L370.4 485.5L370.6 483.2L370.7 490.6L370.8 487.5L371.0 485.7L371.1 481.1L371.2 482.7L371.3 486.3L371.5 482.4L371.6 485.3L371.7 480.1L371.9 496.0L372.0 496.0L372.1 482.7L372.2 485.3L372.4 485.6L372.5 483.7L372.6 483.3L372.7 497.3L372.9 483.6L373.0 485.0L373.1 486.4L373.3 495.4L373.4 493.9L373.5 485.9L373.6 498.5L373.8 502.5L373.9 487.5L374.0 486.5L374.1 487.8L374.3 489.7L374.4 488.5L374.5 479.3L374.6 481.5L374.8 482.8L374.9 493.6L375.0 480.9L375.1 488.4L375.3 493.7L375.4 485.0L375.5 487.3L375.6 494.0L375.8 498.5L375.9 489.0L376.0 492.6L376.1 489.4L376.3 484.0L376.4 493.4L376.5 486.8L376.6 486.3L376.7 494.0L376.9 482.6L377.0 482.2L377.1 483.4L377.2 492.9L377.4 493.4L377.5 500.5L377.6 493.5L377.7 491.1L377.9 511.7L378.0 493.2L378.1 487.9L378.2 488.1L378.3 486.9L378.5 477.4" stroke="#22a022"/>
<path d="M49.3 435.0L52.5 436.9L55.7 435.4L59.6 441.4L63.2 437.2L66.0 439.5L69.3 430.2L72.2 442.7L75.7 434.3L78.3 435.0L80.9 429.2L83.4 433.7L86.7 442.7L89.9 436.9L91.8 436.9L94.4 429.2L96.0 433.0L97.9 445.3L100.5 444.4L103.1 444.4L105.0 440.1L107.3 435.4L109.9 439.2L112.8 437.6L115.6 426.6L117.9 431.8L120.7 441.4L123.7 430.5L125.9 438.2L127.6 434.1L129.8 436.3L133.4 426.6L136.0 436.9L138.5 428.9L140.5 436.9L142.4 435.6L143.9 439.5L145.9 435.4L147.9 441.4L150.2 430.5L152.0 438.8L154.3 428.5L156.2 431.1L157.5 435.0L159.2 434.3L160.8 449.8L162.7 435.6L164.6 436.3L166.6 442.7L168.5 436.9L169.8 441.4L172.4 439.5L174.9 433.7L176.2 436.3L177.8 453.0L179.4 437.6L181.4 436.3L182.7 444.6L184.2 435.6L185.9 442.1L187.2 436.9L189.1 423.4L190.6 430.5L192.6 433.2L193.5 448.0L195.2 437.1L197.2 431.3L198.7 451.2L200.4 439.6L202.6 427.4L204.9 437.1L206.8 444.1L208.8 427.4L210.0 437.1L211.3 432.6L213.3 428.0L215.2 437.1L216.5 430.6L218.8 419.0L221.0 430.6L222.3 435.1L224.2 440.9L226.1 422.2L226.9 433.3L227.6 421.4L228.2 428.9L228.8 427.3L229.4 426.1L230.0 428.9L230.6 429.4L231.2 431.6L231.8 436.6L232.4 433.7L233.0 419.1L233.5 374.8L233.6 379.6L234.2 422.3L234.7 426.2L235.3 432.3L235.9 422.6L236.5 422.9L237.1 424.7L237.6 429.7L238.2 432.8L238.8 434.3L239.3 423.1L239.9 426.6L240.4 425.5L241.0 433.2L241.5 426.7L242.1 433.0L242.6 427.8L243.2 434.0L243.7 430.8L244.3 431.0L244.8 427.1L245.3 423.2L245.9 430.7L246.4 436.8L246.9 435.3L247.4 433.2L248.0 430.8L248.5 435.2L249.0 439.9L249.5 438.8L250.0 434.5L250.5 438.0L251.1 449.5L251.6 430.4L252.1 436.1L252.6 436.6L253.1 429.0L253.6 436.9L254.1 431.6L254.6 431.6L255.1 453.5L255.6 437.5L256.0 431.0L256.5 441.9L257.0 436.4L257.5 441.1L258.0 440.9L258.5 437.9L258.9 433.7L259.4 433.6L259.9 441.0L260.4 437.7L260.8 433.7L261.3 434.5L261.8 431.9L262.2 428.2L262.7 440.4L263.2 443.5L263.6 440.8L264.1 435.5L264.5 432.7L265.0 438.8L265.4 435.8L265.9 428.4L266.3 439.3L266.8 430.8L267.2 430.6L267.7 435.2L268.1 438.8L268.6 432.5L269.0 430.6L269.4 436.3L269.9 451.3L270.3 433.2L270.7 432.1L271.2 434.7L271.6 433.9L272.0 436.9L272.5 436.1L272.9 442.0L273.3 437.5L273.7 438.9L274.2 441.3L274.6 443.1L275.0 444.1L275.4 437.0L275.8 429.8L276.2 428.7L276.6 436.9L277.1 452.2L277.5 439.0L277.9 437.1L278.3 436.8L278.7 437.2L279.1 435.0L279.5 438.3L279.9 433.4L280.3 432.3L280.7 442.4L281.1 446.3L281.5 440.1L281.9 439.7L282.3 438.9L282.7 441.2L283.1 434.8L283.5 447.7L283.8 440.2L284.2 438.6L284.6 439.6L285.0 436.5L285.4 438.5L285.8 427.1L286.2 431.0L286.5 440.7L286.9 443.6L287.3 445.3L287.7 435.3L288.0 436.6L288.4 434.7L288.8 434.9L289.2 437.4L289.5 433.6L289.9 438.2L290.3 438.5L290.6 438.8L291.0 433.4L291.4 429.3L291.7 441.1L292.1 435.6L292.5 441.2L292.8 436.5L293.2 446.0L293.5 441.8L293.9 436.1L294.3 436.5L294.6 439.0L295.0 430.7L295.3 432.6L295.7 431.5L296.0 436.5L296.4 439.5L296.7 431.5L297.1 435.9L297.4 432.2L297.8 429.8L298.1 443.2L298.5 441.6L298.8 446.5L299.1 439.2L299.5 441.0L299.8 436.6L300.2 438.8L300.5 446.9L300.8 444.3L301.2 443.5L301.5 434.8L301.9 438.0L302.2 440.2L302.5 438.9L302.9 438.1L303.2 442.6L303.5 435.7L303.8 430.1L304.2 430.2L304.5 432.1L304.8 435.1L305.2 435.0L305.5 453.5L305.8 442.2L306.1 434.1L306.4 435.9L306.8 441.3L307.1 446.4L307.4 442.0L307.7 438.2L308.0 445.1L308.4 437.1L308.7 439.4L309.0 449.7L309.3 437.2L309.6 447.3L309.9 438.8L310.3 446.2L310.6 443.4L310.9 444.3L311.2 443.3L311.5 451.9L311.8 438.9L312.1 436.0L312.4 441.5L312.7 437.7L313.0 428.4L313.3 432.7L313.6 434.9L313.9 434.4L314.2 434.3L314.6 431.5L314.9 434.4L315.2 443.8L315.5 434.2L315.8 440.1L316.0 440.2L316.3 431.5L316.6 438.0L316.9 441.4L317.2 442.2L317.6 418.0L317.5 432.0L317.8 441.4L318.1 431.4L318.4 443.2L318.7 443.1L319.0 436.7L319.3 442.4L319.6 441.9L319.9 439.0L320.1 440.7L320.4 446.7L320.7 435.5L321.0 438.8L321.3 434.0L321.6 443.2L321.9 436.7L322.1 441.9L322.4 433.7L322.7 446.3L323.0 442.3L323.3 445.6L323.6 440.4L323.8 434.5L324.1 443.8L324.4 446.2L324.7 441.5L324.9 434.3L325.2 445.6L325.5 447.3L325.8 448.6L326.0 450.8L326.3 448.6L326.6 450.1L326.9 441.6L327.1 440.8L327.4 445.1L327.7 442.4L327.9 444.0L328.2 444.3L328.5 452.3L328.8 457.6L329.0 457.3L329.3 444.5L329.6 441.0L329.8 443.6L330.1 440.3L330.4 444.7L330.6 453.2L330.9 447.6L331.1 443.6L331.4 442.1L331.7 443.7L331.9 449.5L332.2 445.8L332.5 442.5L332.7 442.3L333.0 438.0L333.2 444.5L333.5 449.6L333.7 444.1L334.0 448.9L334.3 443.7L334.5 447.6L334.8 447.5L335.0 445.3L335.3 449.8L335.5 444.9L335.8 443.2L336.0 441.7L336.3 450.7L336.5 443.8L336.8 446.5L337.0 451.5L337.3 456.0L337.5 449.6L337.8 456.4L338.0 451.7L338.3 451.9L338.5 454.5L338.8 448.2L339.0 453.4L339.3 441.8L339.5 441.6L339.8 445.1L340.0 446.2L340.3 448.6L340.5 445.4L340.7 449.0L341.0 473.5L341.2 456.8L341.5 451.5L341.7 449.2L342.0 454.3L342.2 445.5L342.4 446.4L342.7 451.7L342.9 457.9L343.1 451.7L343.4 449.3L343.6 445.8L343.9 452.5L344.1 454.7L344.3 447.4L344.6 447.7L344.8 447.8L345.0 447.8L345.3 445.5L345.5 448.9L345.7 448.8L346.0 455.8L346.2 448.0L346.4 450.2L346.7 466.5L346.9 454.8L347.1 453.8L347.4 451.4L347.6 451.1L347.8 451.7L348.0 448.5L348.3 451.8L348.5 451.7L348.7 458.5L349.0 467.0L349.2 462.4L349.4 453.3L349.6 461.7L349.9 460.6L350.1 457.1L350.3 452.0L350.5 460.1L350.8 458.5L351.0 445.6L351.2 458.6L351.4 451.7L351.7 445.2L351.9 459.9L352.1 454.4L352.3 459.2L352.5 456.7L352.8 446.4L353.0 454.4L353.2 448.0L353.4 451.7L353.6 451.8L353.9 450.1L354.1 451.6L354.3 451.4L354.5 451.2L354.7 463.3L354.9 458.3L355.2 459.3L355.4 455.6L355.6 457.3L355.8 452.9L356.0 459.6L356.2 457.9L356.4 454.5L356.7 454.9L356.9 449.0L357.1 464.1L357.3 455.0L357.5 453.3L357.7 455.0L357.9 454.2L358.1 452.9L358.3 457.1L358.6 455.4L358.8 456.3L359.0 477.8L359.2 462.4L359.4 454.4L359.6 455.8L359.8 447.2L360.0 452.3L360.2 462.3L360.4 457.6L360.6 459.8L360.8 459.4L361.0 453.3L361.3 464.4L361.5 461.0L361.7 466.2L361.9 454.3L362.1 451.7L362.3 456.7L362.5 463.4L362.7 457.3L362.9 453.7L363.1 453.3L363.3 452.4L363.5 451.4L363.7 456.6L363.9 459.0L364.1 455.1L364.3 462.8L364.5 460.3L364.7 459.7L364.9 450.6L365.1 458.7L365.3 458.6L365.5 471.9L365.7 461.3L365.9 457.2L366.1 458.6L366.3 454.2L366.5 460.3L366.7 461.5L366.9 454.1L367.1 453.9L367.3 455.9L367.5 453.8L367.6 453.0L367.8 455.4L368.0 460.0L368.2 470.7L368.4 459.2L368.6 468.2L368.8 465.9L369.0 464.9L369.2 461.5L369.4 456.7L369.6 454.2L369.8 452.4L370.0 469.2L370.1 457.6L370.3 453.8L370.5 453.9L370.7 460.5L370.9 460.0L371.1 458.0L371.3 453.4L371.5 455.8L371.7 461.7L371.9 462.3L372.0 462.4L372.2 456.9L372.4 460.8L372.6 455.9L372.8 454.1L373.0 459.0L373.2 453.0L373.3 455.8L373.5 460.6L373.7 465.5L373.9 459.8L374.1 458.4L374.3 458.2L374.5 459.6L374.6 467.2L374.8 472.3L375.0 464.6L375.2 458.6L375.4 454.4L375.6 455.3L375.7 462.1L375.9 464.3L376.1 460.7L376.3 460.4L376.5 456.3L376.6 453.4L376.8 465.9L377.0 459.4L377.2 470.6L377.4 460.5L377.5 462.4L377.7 459.6L377.9 457.8L378.1 463.1L378.3 463.3L378.4 461.7" stroke="#f22"/>
</g>
<clipPath id="c2"><rect x="50.0" y="642.8" width="328.5" height="231.80000000000007"/></clipPath>
<g clip-path="url(#c2)" fill="none" stroke-width="1.05" stroke-linejoin="round">
<path d="M49.9 782.3L51.6 797.3L53.2 787.0L55.7 782.3L57.8 775.6L59.3 776.1L60.9 774.1L62.4 777.7L65.0 797.8L67.6 782.8L69.6 775.6L71.7 760.7L73.3 762.7L75.0 761.2L77.4 780.3L78.9 774.6L80.8 785.9L83.0 782.8L85.6 777.2L88.1 772.0L90.6 782.3L93.7 774.1L96.3 785.9L98.4 781.8L99.4 785.9L101.5 779.2L103.0 791.1L105.1 782.8L107.6 773.6L110.2 777.2L112.3 790.1L114.4 779.7L116.9 786.4L119.2 774.6L121.1 788.0L122.6 797.3L124.0 784.9L125.2 770.5L126.6 781.8L127.9 771.5L130.2 792.6L132.8 771.0L134.3 778.7L135.9 772.0L137.4 788.5L138.9 772.5L140.5 785.9L141.7 776.6L143.4 790.1L144.6 779.2L146.2 785.9L147.9 772.5L149.8 789.0L151.6 773.6L153.4 783.4L155.1 772.0L156.8 800.4L158.5 780.3L160.6 796.2L162.5 773.0L164.1 789.0L165.6 779.7L167.7 795.7L169.2 782.8L170.2 800.4L171.8 782.3L174.4 799.3L176.4 777.2L178.0 790.1L179.5 777.2L181.1 793.7L184.2 775.6L185.7 796.2L187.3 773.0L189.3 776.6L190.9 791.1L192.4 776.6L194.5 785.9L196.0 778.7L197.6 795.2L200.7 764.8L202.0 772.5L202.7 777.8L203.2 771.2L203.7 779.3L204.2 773.8L204.7 777.3L205.2 778.0L205.7 774.0L206.2 769.4L206.7 772.8L207.2 779.1L207.7 784.1L208.2 775.4L208.7 768.5L209.2 769.3L209.7 787.6L210.2 774.4L210.7 767.9L211.1 769.2L211.6 766.2L212.1 767.1L212.6 770.9L213.1 765.0L213.5 759.2L214.0 763.8L214.5 767.3L214.9 763.7L215.4 768.5L215.9 769.4L216.3 758.5L216.8 767.3L217.3 766.0L217.7 768.2L218.2 766.1L218.6 761.1L219.1 766.2L219.5 766.1L220.0 764.3L220.4 774.6L220.9 764.6L221.3 756.9L221.8 759.1L222.2 752.6L222.6 760.7L223.1 751.5L223.5 754.4L223.9 770.7L224.4 752.3L224.8 763.0L225.2 767.9L225.7 752.6L226.1 748.9L226.5 751.9L226.9 754.6L227.4 753.3L227.8 749.0L228.2 758.7L228.6 760.6L229.0 747.6L229.5 759.9L229.9 755.2L230.3 748.4L230.7 757.3L231.1 759.1L231.5 758.2L231.9 749.7L232.3 736.8L232.7 728.4L233.1 710.5L233.5 647.0L233.5 646.9L233.9 711.3L234.3 734.1L234.7 747.3L235.1 741.1L235.5 746.1L235.9 761.7L236.3 755.9L236.7 768.1L237.1 757.3L237.5 753.3L237.9 760.7L238.2 764.2L238.6 763.1L239.0 758.1L239.4 761.5L239.8 754.9L240.2 763.5L240.5 752.3L240.9 761.4L241.3 761.5L241.7 759.2L242.0 761.8L242.4 763.5L242.8 770.1L243.2 767.2L243.5 765.6L243.9 767.3L244.3 761.2L244.6 755.4L245.0 764.4L245.4 766.0L245.7 781.2L246.1 760.7L246.4 779.9L246.8 772.4L247.2 765.7L247.5 778.2L247.9 767.9L248.2 771.8L248.6 770.0L248.9 782.4L249.3 782.4L249.6 771.6L250.0 771.5L250.3 780.4L250.7 774.4L251.0 784.0L251.4 785.1L251.7 783.8L252.1 771.5L252.4 787.5L252.8 776.4L253.1 770.8L253.4 788.8L253.8 777.2L254.1 778.7L254.5 797.5L254.8 788.5L255.1 778.5L255.5 775.4L255.8 781.2L256.1 789.9L256.5 773.3L256.8 782.7L257.1 794.7L257.5 789.2L257.8 779.8L258.1 771.8L258.4 779.8L258.8 800.7L259.1 804.0L259.4 788.0L259.7 780.8L260.1 774.0L260.4 775.1L260.7 779.7L261.0 789.3L261.3 798.5L261.7 792.4L262.0 789.2L262.3 787.4L262.6 792.0L262.9 797.4L263.2 815.8L263.6 791.6L263.9 796.5L264.2 800.6L264.5 800.3L264.8 806.8L265.1 778.6L265.4 800.1L265.7 809.0L266.0 787.7L266.3 782.0L266.6 785.3L266.9 778.7L267.2 781.9L267.6 790.7L267.9 796.3L268.2 781.6L268.5 797.9L268.8 806.8L269.1 810.3L269.4 791.5L269.7 784.5L269.9 789.9L270.2 799.5L270.5 787.3L270.8 792.5L271.1 803.2L271.4 788.0L271.7 785.5L272.0 795.1L272.3 801.0L272.6 787.3L272.9 791.4L273.2 780.6L273.5 790.3L273.7 800.1L274.0 786.0L274.3 791.7L274.6 803.7L274.9 786.5L275.2 795.8L275.5 790.1L275.7 793.0L276.0 802.8L276.3 799.3L276.6 791.9L276.9 796.7L277.2 787.7L277.4 823.8L277.7 797.9L278.0 793.5L278.3 794.3L278.5 795.4L278.8 790.5L279.1 781.5L279.4 797.3L279.6 795.4L279.9 796.5L280.2 792.0L280.5 802.9L280.7 788.9L281.0 782.1L281.3 783.8L281.5 804.8L281.8 799.7L282.1 806.2L282.4 803.4L282.6 798.8L282.9 803.9L283.2 799.5L283.4 793.4L283.7 811.1L284.0 789.9L284.2 793.5L284.5 788.9L284.7 800.4L285.0 801.3L285.3 806.1L285.5 798.3L285.8 812.2L286.0 788.6L286.3 794.9L286.6 788.6L286.8 788.5L287.1 787.1L287.3 826.5L287.6 814.1L287.9 811.9L288.1 804.6L288.4 825.3L288.6 807.8L288.9 808.1L289.1 810.6L289.4 840.3L289.6 824.5L289.9 800.1L290.1 796.4L290.4 806.3L290.6 799.3L290.9 800.1L291.1 807.4L291.4 797.3L291.6 801.8L291.9 796.9L292.1 804.0L292.4 812.5L292.6 791.3L292.9 795.3L293.1 795.9L293.4 790.9L293.6 806.1L293.9 798.4L294.1 804.3L294.3 807.8L294.6 806.1L294.8 792.0L295.1 792.4L295.3 796.4L295.5 800.9L295.8 789.4L296.0 796.6L296.3 786.3L296.5 794.1L296.7 809.4L297.0 811.7L297.2 804.6L297.5 814.4L297.7 807.4L297.9 801.8L298.2 819.0L298.4 801.6L298.6 800.5L298.9 800.1L299.1 815.6L299.3 798.8L299.6 796.8L299.8 797.4L300.0 800.1L300.3 804.1L300.5 794.2L300.7 796.4L301.0 787.5L301.2 801.9L301.4 800.6L301.6 789.3L301.9 787.8L302.1 788.1L302.3 793.6L302.5 804.3L302.8 794.5L303.0 794.3L303.2 790.3L303.5 794.2L303.7 791.1L303.9 799.8L304.1 807.2L304.4 803.2L304.6 813.8L304.8 794.9L305.0 798.6L305.2 808.1L305.5 784.2L305.7 801.3L305.9 791.3L306.1 798.8L306.3 806.1L306.6 802.8L306.8 796.9L307.0 804.5L307.2 801.5L307.4 799.2L307.7 800.9L307.9 805.4L308.1 797.8L308.3 808.7L308.5 806.8L308.7 805.0L309.0 820.5L309.2 796.2L309.4 819.8L309.6 814.9L309.8 790.5L310.0 815.3L310.2 804.7L310.5 810.7L310.7 797.6L310.9 803.4L311.1 808.8L311.3 806.3L311.5 791.8L311.7 806.2L311.9 812.8L312.1 799.5L312.4 789.7L312.6 801.7L312.8 805.4L313.0 798.2L313.2 793.7L313.4 800.3L313.6 804.6L313.8 801.2L314.0 800.7L314.2 807.4L314.4 799.4L314.6 803.4L314.8 803.3L315.0 802.7L315.2 785.1L315.5 795.6L315.7 787.4L315.9 796.7L316.1 808.7L316.3 797.6L316.5 811.4L316.7 819.8L316.9 810.9L317.1 800.8L317.3 794.9L317.6 784.0L317.5 790.1L317.7 787.0L317.9 803.9L318.1 808.1L318.3 814.9L318.5 808.7L318.7 816.7L318.9 811.2L319.1 794.7L319.3 803.3L319.5 802.8L319.7 816.3L319.9 816.8L320.1 813.0L320.3 802.9L320.4 808.2L320.6 802.5L320.8 810.4L321.0 821.4L321.2 802.5L321.4 803.9L321.6 807.7L321.8 803.3L322.0 811.6L322.2 801.4L322.4 825.4L322.6 801.3L322.8 811.1L323.0 819.8L323.2 818.3L323.3 799.2L323.5 809.9L323.7 810.0L323.9 825.4L324.1 793.8L324.3 789.4L324.5 806.2L324.7 809.2L324.9 829.2L325.1 826.1L325.2 815.8L325.4 807.1L325.6 813.6L325.8 833.9L326.0 813.5L326.2 796.3L326.4 808.1L326.6 814.7L326.7 810.1L326.9 813.2L327.1 802.1L327.3 809.1L327.5 800.7L327.7 809.0L327.9 828.7L328.0 833.5L328.2 807.4L328.4 815.7L328.6 825.9L328.8 828.3L329.0 826.1L329.1 822.3L329.3 838.8L329.5 828.8L329.7 817.5L329.9 810.3L330.0 821.0L330.2 816.1L330.4 815.4L330.6 821.1L330.8 812.7L330.9 819.0L331.1 820.3L331.3 819.6L331.5 799.3L331.7 804.1L331.8 810.3L332.0 813.0L332.2 809.8L332.4 806.6L332.5 825.9L332.7 808.8L332.9 838.2L333.1 824.8L333.3 813.2L333.4 818.1L333.6 839.3L333.8 822.1L334.0 825.9L334.1 821.4L334.3 815.6L334.5 827.9L334.7 844.3L334.8 828.1L335.0 813.6L335.2 815.7L335.3 810.8L335.5 809.0L335.7 839.3L335.9 828.6L336.0 812.9L336.2 799.3L336.4 822.1L336.6 815.4L336.7 835.5L336.9 823.9L337.1 824.6L337.2 821.3L337.4 808.3L337.6 809.9L337.7 819.1L337.9 812.7L338.1 810.2L338.3 812.3L338.4 809.3L338.6 823.7L338.8 796.5L338.9 814.0L339.1 807.0L339.3 824.7L339.4 833.8L339.6 844.6L339.8 809.6L339.9 802.9L340.1 818.9L340.3 816.3L340.4 808.9L340.6 810.0L340.8 825.6L340.9 814.3L341.1 808.6L341.3 822.5L341.4 819.5L341.6 820.6L341.8 809.5L341.9 808.4L342.1 812.5L342.2 820.8L342.4 833.3L342.6 833.5L342.7 814.7L342.9 820.6L343.1 814.8L343.2 827.8L343.4 825.8L343.5 836.5L343.7 829.4L343.9 815.3L344.0 827.3L344.2 825.8L344.4 825.7L344.5 810.0L344.7 799.1L344.8 822.1L345.0 799.5L345.2 805.0L345.3 815.9L345.5 819.4L345.6 823.8L345.8 822.8L346.0 811.1L346.1 816.7L346.3 825.3L346.4 820.7L346.6 827.1L346.7 813.6L346.9 817.7L347.1 816.2L347.2 806.1L347.4 819.1L347.5 823.8L347.7 823.8L347.8 823.4L348.0 820.8L348.2 819.4L348.3 823.1L348.5 819.5L348.6 814.9L348.8 813.2L348.9 808.0L349.1 821.1L349.2 827.6L349.4 812.3L349.5 814.2L349.7 817.7L349.9 817.4L350.0 834.1L350.2 809.6L350.3 832.9L350.5 840.7L350.6 830.0L350.8 821.5L350.9 812.4L351.1 812.0L351.2 817.6L351.4 820.8L351.5 819.6L351.7 819.8L351.8 836.3L352.0 826.0L352.1 839.1L352.3 844.0L352.4 832.4L352.6 815.3L352.7 824.9L352.9 836.3L353.0 847.5L353.2 828.7L353.3 821.5L353.5 829.9L353.6 822.0L353.8 829.4L353.9 822.2L354.1 820.3L354.2 819.8L354.4 835.1L354.5 849.8L354.7 831.4L354.8 829.7L355.0 828.4L355.1 824.6L355.3 833.3L355.4 832.2L355.6 833.5L355.7 822.8L355.8 833.5L356.0 820.3L356.1 816.8L356.3 812.1L356.4 819.4L356.6 816.7L356.7 819.8L356.9 823.7L357.0 823.6L357.2 840.1L357.3 825.6L357.4 831.6L357.6 843.8L357.7 829.6L357.9 828.1L358.0 817.2L358.2 820.6L358.3 808.9L358.5 812.8L358.6 828.2L358.7 828.1L358.9 823.9L359.0 816.1L359.2 824.3L359.3 822.2L359.4 838.4L359.6 834.6L359.7 835.1L359.9 830.0L360.0 827.6L360.2 821.2L360.3 828.3L360.4 832.2L360.6 846.3L360.7 823.6L360.9 830.3L361.0 829.1L361.1 821.7L361.3 832.2L361.4 845.7L361.6 830.6L361.7 842.9L361.8 827.3L362.0 829.9L362.1 832.8L362.3 816.2L362.4 821.0L362.5 837.0L362.7 832.6L362.8 836.2L362.9 826.0L363.1 838.1L363.2 840.2L363.4 851.4L363.5 820.0L363.6 850.2L363.8 858.0L363.9 817.3L364.0 827.1L364.2 826.8L364.3 840.2L364.5 834.2L364.6 834.9L364.7 821.3L364.9 825.2L365.0 846.1L365.1 824.6L365.3 833.0L365.4 833.9L365.5 816.2L365.7 826.6L365.8 822.6L365.9 831.3L366.1 830.9L366.2 845.7L366.3 824.5L366.5 834.3L366.6 843.1L366.7 854.8L366.9 836.8L367.0 833.7L367.1 834.6L367.3 827.1L367.4 839.1L367.5 831.3L367.7 827.0L367.8 828.1L367.9 837.4L368.1 836.8L368.2 831.4L368.3 832.3L368.5 840.4L368.6 827.4L368.7 831.4L368.9 823.9L369.0 835.5L369.1 830.3L369.3 835.3L369.4 856.5L369.5 867.8L369.7 842.9L369.8 826.9L369.9 837.3L370.0 824.7L370.2 827.9L370.3 833.4L370.4 840.6L370.6 842.0L370.7 849.6L370.8 823.0L371.0 832.4L371.1 831.8L371.2 837.1L371.3 833.7L371.5 834.4L371.6 826.4L371.7 842.9L371.9 850.6L372.0 861.3L372.1 833.5L372.2 829.1L372.4 847.3L372.5 849.4L372.6 856.0L372.7 840.7L372.9 848.4L373.0 854.1L373.1 835.4L373.3 844.7L373.4 832.9L373.5 844.0L373.6 832.4L373.8 846.2L373.9 854.3L374.0 823.8L374.1 831.4L374.3 832.9L374.4 838.6L374.5 827.8L374.6 837.3L374.8 848.9L374.9 839.9L375.0 831.4L375.1 840.9L375.3 854.3L375.4 865.5L375.5 849.0L375.6 848.5L375.8 837.7L375.9 852.8L376.0 846.0L376.1 843.5L376.3 847.7L376.4 835.8L376.5 848.3L376.6 847.2L376.7 851.2L376.9 848.7L377.0 837.8L377.1 839.0L377.2 855.6L377.4 849.5L377.5 839.0L377.6 830.6L377.7 829.8L377.9 841.9L378.0 832.4L378.1 833.3L378.2 832.7L378.3 860.2L378.5 852.6" stroke="#22a022"/>
<path d="M49.5 779.2L50.9 775.1L52.6 777.7L55.2 787.0L57.3 784.9L59.9 782.8L61.9 778.2L64.3 773.0L66.6 775.1L68.6 779.7L71.2 790.1L73.3 790.6L75.3 788.0L77.9 792.1L81.0 784.9L83.9 777.2L85.6 783.9L87.5 797.3L88.6 796.2L90.1 790.6L91.7 787.0L93.7 778.2L95.8 785.9L98.4 802.9L101.0 794.2L103.0 791.1L105.4 797.3L108.2 785.9L111.3 791.6L113.6 789.0L115.7 776.1L117.4 781.8L119.0 792.1L121.1 784.4L123.1 791.6L124.0 791.1L126.1 792.6L128.6 800.4L131.2 795.2L133.3 793.1L135.5 784.9L137.4 793.1L140.0 787.0L142.6 794.2L144.1 794.7L145.9 788.0L148.2 796.2L149.8 790.6L151.6 805.0L154.4 783.4L157.0 800.9L158.5 796.2L160.1 799.8L162.2 781.8L164.1 790.1L166.3 785.9L168.4 802.4L170.8 794.7L172.8 808.1L175.2 787.5L178.0 811.2L180.0 800.4L182.1 801.9L183.6 784.9L185.5 805.5L187.3 792.6L189.0 785.9L191.4 782.8L194.0 803.5L196.5 790.1L198.6 788.0L201.2 777.7L202.2 780.2L203.0 800.2L203.8 782.4L204.5 775.0L205.2 780.1L206.0 783.0L206.7 785.3L207.5 790.5L208.2 793.0L208.9 788.4L209.6 782.4L210.3 776.0L211.0 786.8L211.8 779.9L212.5 789.8L213.1 791.2L213.8 785.3L214.5 770.4L215.2 774.6L215.9 793.3L216.6 772.9L217.3 773.5L217.9 769.9L218.6 763.5L219.3 774.8L219.9 773.8L220.6 769.0L221.2 779.0L221.9 768.8L222.5 765.8L223.2 766.5L223.8 774.3L224.4 766.7L225.1 765.8L225.7 775.2L226.3 774.3L226.9 786.0L227.6 766.6L228.2 753.8L228.8 757.1L229.4 764.0L230.0 774.7L230.6 765.3L231.2 758.9L231.8 763.9L232.4 754.9L233.0 738.5L233.5 668.5L233.6 675.7L234.2 746.6L234.7 760.1L235.3 763.2L235.9 762.4L236.5 770.7L237.1 781.3L237.6 790.9L238.2 766.1L238.8 768.9L239.3 768.8L239.9 766.9L240.4 766.0L241.0 769.4L241.5 764.4L242.1 771.5L242.6 775.0L243.2 777.7L243.7 776.4L244.3 769.8L244.8 777.6L245.3 777.9L245.9 786.0L246.4 782.8L246.9 770.3L247.4 782.5L248.0 780.7L248.5 795.5L249.0 785.1L249.5 792.1L250.0 791.3L250.5 785.6L251.1 782.3L251.6 782.7L252.1 784.2L252.6 787.7L253.1 782.0L253.6 788.1L254.1 788.0L254.6 790.4L255.1 785.9L255.6 795.7L256.0 784.2L256.5 804.5L257.0 778.3L257.5 793.9L258.0 796.6L258.5 791.9L258.9 774.7L259.4 798.2L259.9 797.7L260.4 778.0L260.8 792.3L261.3 778.6L261.8 786.4L262.2 791.2L262.7 786.1L263.2 779.8L263.6 784.2L264.1 791.9L264.5 802.9L265.0 795.9L265.4 788.0L265.9 783.5L266.3 784.9L266.8 789.6L267.2 800.0L267.7 780.6L268.1 790.4L268.6 801.3L269.0 798.1L269.4 811.1L269.9 799.5L270.3 781.1L270.7 792.2L271.2 788.7L271.6 796.2L272.0 794.2L272.5 800.5L272.9 784.3L273.3 791.4L273.7 793.7L274.2 799.7L274.6 798.3L275.0 791.2L275.4 789.0L275.8 791.0L276.2 790.3L276.6 801.3L277.1 797.9L277.5 792.2L277.9 785.6L278.3 798.0L278.7 810.1L279.1 793.6L279.5 806.6L279.9 801.3L280.3 800.7L280.7 791.4L281.1 797.5L281.5 787.5L281.9 782.6L282.3 783.0L282.7 788.4L283.1 801.8L283.5 805.0L283.8 801.8L284.2 812.9L284.6 795.4L285.0 796.0L285.4 785.5L285.8 780.3L286.2 791.5L286.5 793.3L286.9 796.7L287.3 788.6L287.7 803.7L288.0 812.0L288.4 792.1L288.8 812.9L289.2 795.5L289.5 789.9L289.9 783.5L290.3 810.6L290.6 786.2L291.0 804.5L291.4 795.3L291.7 808.7L292.1 789.9L292.5 784.5L292.8 795.6L293.2 811.5L293.5 787.6L293.9 802.9L294.3 799.6L294.6 813.8L295.0 798.0L295.3 814.9L295.7 816.9L296.0 796.7L296.4 795.9L296.7 796.6L297.1 796.2L297.4 799.9L297.8 809.1L298.1 791.3L298.5 805.5L298.8 786.3L299.1 794.6L299.5 794.6L299.8 802.5L300.2 793.5L300.5 798.1L300.8 784.7L301.2 793.8L301.5 820.2L301.9 797.0L302.2 800.4L302.5 793.8L302.9 804.3L303.2 817.6L303.5 816.2L303.8 794.7L304.2 788.0L304.5 801.8L304.8 813.9L305.2 802.2L305.5 799.0L305.8 796.2L306.1 789.2L306.4 780.4L306.8 795.5L307.1 811.6L307.4 814.3L307.7 789.0L308.0 796.5L308.4 796.0L308.7 813.6L309.0 804.1L309.3 812.7L309.6 806.3L309.9 796.2L310.3 806.8L310.6 804.6L310.9 802.7L311.2 801.2L311.5 793.8L311.8 797.6L312.1 783.9L312.4 793.8L312.7 788.0L313.0 789.0L313.3 793.4L313.6 802.5L313.9 808.5L314.2 817.6L314.6 805.2L314.9 797.3L315.2 811.2L315.5 809.8L315.8 804.5L316.0 810.3L316.3 794.2L316.6 790.4L316.9 790.3L317.2 783.1L317.6 756.0L317.5 775.5L317.8 799.4L318.1 809.4L318.4 796.5L318.7 794.1L319.0 799.5L319.3 800.4L319.6 817.0L319.9 800.5L320.1 801.5L320.4 803.7L320.7 808.1L321.0 800.9L321.3 806.2L321.6 818.3L321.9 815.5L322.1 803.0L322.4 803.0L322.7 818.7L323.0 822.3L323.3 798.8L323.6 805.0L323.8 826.5L324.1 806.7L324.4 805.3L324.7 793.7L324.9 793.7L325.2 821.2L325.5 818.2L325.8 833.0L326.0 809.1L326.3 810.0L326.6 817.1L326.9 827.9L327.1 804.3L327.4 796.2L327.7 812.1L327.9 826.4L328.2 809.4L328.5 812.1L328.8 801.7L329.0 796.8L329.3 821.6L329.6 814.2L329.8 815.5L330.1 817.7L330.4 821.6L330.6 800.0L330.9 798.8L331.1 818.7L331.4 811.5L331.7 803.1L331.9 817.7L332.2 817.5L332.5 820.7L332.7 809.8L333.0 811.5L333.2 816.7L333.5 815.8L333.7 814.3L334.0 834.3L334.3 806.8L334.5 810.5L334.8 823.8L335.0 822.6L335.3 798.5L335.5 810.0L335.8 800.1L336.0 824.5L336.3 815.1L336.5 830.1L336.8 813.8L337.0 812.4L337.3 795.0L337.5 805.9L337.8 818.4L338.0 808.2L338.3 819.1L338.5 817.4L338.8 802.3L339.0 808.5L339.3 823.7L339.5 801.4L339.8 821.5L340.0 808.2L340.3 801.3L340.5 802.9L340.7 805.8L341.0 807.3L341.2 808.5L341.5 814.4L341.7 800.5L342.0 799.7L342.2 809.6L342.4 810.8L342.7 812.9L342.9 822.2L343.1 828.7L343.4 818.1L343.6 813.0L343.9 811.5L344.1 809.8L344.3 814.2L344.6 799.3L344.8 795.6L345.0 801.9L345.3 803.5L345.5 808.7L345.7 809.0L346.0 807.2L346.2 817.5L346.4 813.7L346.7 822.5L346.9 810.3L347.1 809.5L347.4 803.9L347.6 807.2L347.8 807.8L348.0 805.7L348.3 807.6L348.5 803.4L348.7 821.4L349.0 841.2L349.2 819.0L349.4 831.0L349.6 821.4L349.9 837.6L350.1 819.2L350.3 794.3L350.5 820.8L350.8 824.7L351.0 809.9L351.2 833.9L351.4 816.7L351.7 812.6L351.9 816.5L352.1 813.8L352.3 816.4L352.5 811.7L352.8 805.6L353.0 808.4L353.2 808.8L353.4 808.1L353.6 805.5L353.9 809.1L354.1 819.8L354.3 819.0L354.5 822.0L354.7 814.5L354.9 811.7L355.2 815.3L355.4 822.3L355.6 822.7L355.8 819.1L356.0 813.8L356.2 806.7L356.4 820.9L356.7 829.8L356.9 830.6L357.1 817.3L357.3 845.1L357.5 812.0L357.7 823.6L357.9 821.6L358.1 819.9L358.3 835.5L358.6 816.0L358.8 823.0L359.0 812.5L359.2 816.3L359.4 827.5L359.6 827.5L359.8 815.7L360.0 827.9L360.2 814.2L360.4 830.2L360.6 824.2L360.8 809.6L361.0 815.3L361.3 815.4L361.5 820.9L361.7 834.4L361.9 824.7L362.1 816.1L362.3 813.2L362.5 810.2L362.7 840.5L362.9 817.5L363.1 810.1L363.3 817.7L363.5 818.3L363.7 827.8L363.9 817.7L364.1 810.0L364.3 823.5L364.5 825.9L364.7 810.1L364.9 825.5L365.1 827.2L365.3 831.8L365.5 831.7L365.7 838.8L365.9 834.2L366.1 822.6L366.3 821.9L366.5 840.9L366.7 823.4L366.9 816.9L367.1 813.8L367.3 814.2L367.5 822.2L367.6 821.8L367.8 827.9L368.0 830.0L368.2 823.7L368.4 822.6L368.6 846.0L368.8 829.2L369.0 828.0L369.2 819.9L369.4 832.3L369.6 832.2L369.8 820.5L370.0 815.4L370.1 822.1L370.3 818.4L370.5 812.3L370.7 815.7L370.9 812.4L371.1 833.2L371.3 820.6L371.5 819.9L371.7 825.4L371.9 816.1L372.0 815.5L372.2 813.3L372.4 813.7L372.6 830.4L372.8 837.8L373.0 839.0L373.2 831.0L373.3 837.6L373.5 818.4L373.7 820.7L373.9 818.0L374.1 806.0L374.3 825.5L374.5 832.0L374.6 828.4L374.8 846.1L375.0 822.9L375.2 827.7L375.4 835.2L375.6 822.5L375.7 838.1L375.9 826.5L376.1 823.4L376.3 822.1L376.5 813.7L376.6 834.7L376.8 842.8L377.0 826.0L377.2 814.6L377.4 828.5L377.5 823.6L377.7 818.6L377.9 816.6L378.1 827.8L378.3 822.4L378.4 828.0" stroke="#f22"/>
</g>
<rect x="344.0" y="11.80" width="33.60" height="21.4" fill="#fff" stroke="#222" stroke-width="1.1"/>
<line x1="346.2" y1="17.40" x2="357.6" y2="17.40" stroke="#22a022" stroke-width="1"/>
<line x1="346.2" y1="27.40" x2="357.6" y2="27.40" stroke="#f22" stroke-width="1"/>
<text x="358.4" y="20.70" class="lg">MIC</text>
<text x="358.4" y="30.70" class="lg">PIV</text>
<path d="M50.0 241.40h4M378.5 241.40h-4M50.0 231.43h2M378.5 231.43h-2M50.0 225.60h2M378.5 225.60h-2M50.0 221.46h2M378.5 221.46h-2M50.0 218.25h2M378.5 218.25h-2M50.0 215.63h2M378.5 215.63h-2M50.0 213.42h2M378.5 213.42h-2M50.0 211.49h2M378.5 211.49h-2M50.0 209.80h2M378.5 209.80h-2M50.0 208.29h4M378.5 208.29h-4M50.0 198.32h2M378.5 198.32h-2M50.0 192.49h2M378.5 192.49h-2M50.0 188.35h2M378.5 188.35h-2M50.0 185.14h2M378.5 185.14h-2M50.0 182.52h2M378.5 182.52h-2M50.0 180.30h2M378.5 180.30h-2M50.0 178.38h2M378.5 178.38h-2M50.0 176.69h2M378.5 176.69h-2M50.0 175.17h4M378.5 175.17h-4M50.0 165.20h2M378.5 165.20h-2M50.0 159.37h2M378.5 159.37h-2M50.0 155.23h2M378.5 155.23h-2M50.0 152.03h2M378.5 152.03h-2M50.0 149.40h2M378.5 149.40h-2M50.0 147.19h2M378.5 147.19h-2M50.0 145.27h2M378.5 145.27h-2M50.0 143.57h2M378.5 143.57h-2M50.0 142.06h4M378.5 142.06h-4M50.0 132.09h2M378.5 132.09h-2M50.0 126.26h2M378.5 126.26h-2M50.0 122.12h2M378.5 122.12h-2M50.0 118.91h2M378.5 118.91h-2M50.0 116.29h2M378.5 116.29h-2M50.0 114.07h2M378.5 114.07h-2M50.0 112.15h2M378.5 112.15h-2M50.0 110.46h2M378.5 110.46h-2M50.0 108.94h4M378.5 108.94h-4M50.0 98.97h2M378.5 98.97h-2M50.0 93.14h2M378.5 93.14h-2M50.0 89.01h2M378.5 89.01h-2M50.0 85.80h2M378.5 85.80h-2M50.0 83.17h2M378.5 83.17h-2M50.0 80.96h2M378.5 80.96h-2M50.0 79.04h2M378.5 79.04h-2M50.0 77.34h2M378.5 77.34h-2M50.0 75.83h4M378.5 75.83h-4M50.0 65.86h2M378.5 65.86h-2M50.0 60.03h2M378.5 60.03h-2M50.0 55.89h2M378.5 55.89h-2M50.0 52.68h2M378.5 52.68h-2M50.0 50.06h2M378.5 50.06h-2M50.0 47.84h2M378.5 47.84h-2M50.0 45.92h2M378.5 45.92h-2M50.0 44.23h2M378.5 44.23h-2M50.0 42.71h4M378.5 42.71h-4M50.0 32.75h2M378.5 32.75h-2M50.0 26.91h2M378.5 26.91h-2M50.0 22.78h2M378.5 22.78h-2M50.0 19.57h2M378.5 19.57h-2M50.0 16.95h2M378.5 16.95h-2M50.0 14.73h2M378.5 14.73h-2M50.0 12.81h2M378.5 12.81h-2M50.0 11.12h2M378.5 11.12h-2M50.0 9.60h4M378.5 9.60h-4M50.00 241.4v-3.5M50.00 9.6v3.5M183.27 241.4v-3.5M183.27 9.6v3.5M245.23 241.4v-3.5M245.23 9.6v3.5M286.05 241.4v-3.5M286.05 9.6v3.5M316.53 241.4v-3.5M316.53 9.6v3.5M340.88 241.4v-3.5M340.88 9.6v3.5M361.14 241.4v-3.5M361.14 9.6v3.5M378.50 241.4v-3.5M378.50 9.6v3.5M134.08 241.4v-2M134.08 9.6v2" stroke="#222" stroke-width="0.9" fill="none"/>
<rect x="50.0" y="9.6" width="328.5" height="231.8" fill="none" stroke="#1a1a1a" stroke-width="1.4"/>
<text x="27.2" y="211.79" class="tl">10</text><text x="37.9" y="206.09" class="ts">−4</text>
<text x="27.2" y="178.67" class="tl">10</text><text x="37.9" y="172.97" class="ts">−3</text>
<text x="27.2" y="145.56" class="tl">10</text><text x="37.9" y="139.86" class="ts">−2</text>
<text x="27.2" y="112.44" class="tl">10</text><text x="37.9" y="106.74" class="ts">−1</text>
<text x="27.2" y="79.33" class="tl">10</text><text x="37.9" y="73.63" class="ts">0</text>
<text x="27.2" y="46.21" class="tl">10</text><text x="37.9" y="40.51" class="ts">1</text>
<text x="27.2" y="13.10" class="tl">10</text><text x="37.9" y="7.40" class="ts">2</text>
<text x="51.20" y="253.10" class="tl xl" text-anchor="middle">0.1</text>
<text x="184.47" y="253.10" class="tl xl" text-anchor="middle">0.3</text>
<text x="246.43" y="253.10" class="tl xl" text-anchor="middle">0.5</text>
<text x="287.25" y="253.10" class="tl xl" text-anchor="middle">0.7</text>
<text x="317.73" y="253.10" class="tl xl" text-anchor="middle">0.9</text>
<text x="342.08" y="253.10" class="tl xl" text-anchor="middle">1.1</text>
<text x="362.34" y="253.10" class="tl xl" text-anchor="middle">1.3</text>
<text x="379.70" y="253.10" class="tl xl" text-anchor="middle">1.5</text>
<text x="218.4" y="274.00" class="al" text-anchor="middle">kHz</text>
<text transform="translate(16.2 135.50) rotate(-90)" class="al">Pa<tspan class="sup" dx="-0.9" dy="-6.8">2</tspan></text>
<text x="189.09" y="293.40" class="capb">(a)</text>
<text x="213.14" y="293.40" class="cap">Mic n.4</text>
<rect x="344.0" y="327.80" width="33.60" height="21.4" fill="#fff" stroke="#222" stroke-width="1.1"/>
<line x1="346.2" y1="333.40" x2="357.6" y2="333.40" stroke="#22a022" stroke-width="1"/>
<line x1="346.2" y1="343.40" x2="357.6" y2="343.40" stroke="#f22" stroke-width="1"/>
<text x="358.4" y="336.70" class="lg">MIC</text>
<text x="358.4" y="346.70" class="lg">PIV</text>
<path d="M50.0 557.40h4M378.5 557.40h-4M50.0 547.43h2M378.5 547.43h-2M50.0 541.60h2M378.5 541.60h-2M50.0 537.46h2M378.5 537.46h-2M50.0 534.25h2M378.5 534.25h-2M50.0 531.63h2M378.5 531.63h-2M50.0 529.42h2M378.5 529.42h-2M50.0 527.49h2M378.5 527.49h-2M50.0 525.80h2M378.5 525.80h-2M50.0 524.29h4M378.5 524.29h-4M50.0 514.32h2M378.5 514.32h-2M50.0 508.49h2M378.5 508.49h-2M50.0 504.35h2M378.5 504.35h-2M50.0 501.14h2M378.5 501.14h-2M50.0 498.52h2M378.5 498.52h-2M50.0 496.30h2M378.5 496.30h-2M50.0 494.38h2M378.5 494.38h-2M50.0 492.69h2M378.5 492.69h-2M50.0 491.17h4M378.5 491.17h-4M50.0 481.20h2M378.5 481.20h-2M50.0 475.37h2M378.5 475.37h-2M50.0 471.23h2M378.5 471.23h-2M50.0 468.03h2M378.5 468.03h-2M50.0 465.40h2M378.5 465.40h-2M50.0 463.19h2M378.5 463.19h-2M50.0 461.27h2M378.5 461.27h-2M50.0 459.57h2M378.5 459.57h-2M50.0 458.06h4M378.5 458.06h-4M50.0 448.09h2M378.5 448.09h-2M50.0 442.26h2M378.5 442.26h-2M50.0 438.12h2M378.5 438.12h-2M50.0 434.91h2M378.5 434.91h-2M50.0 432.29h2M378.5 432.29h-2M50.0 430.07h2M378.5 430.07h-2M50.0 428.15h2M378.5 428.15h-2M50.0 426.46h2M378.5 426.46h-2M50.0 424.94h4M378.5 424.94h-4M50.0 414.97h2M378.5 414.97h-2M50.0 409.14h2M378.5 409.14h-2M50.0 405.01h2M378.5 405.01h-2M50.0 401.80h2M378.5 401.80h-2M50.0 399.17h2M378.5 399.17h-2M50.0 396.96h2M378.5 396.96h-2M50.0 395.04h2M378.5 395.04h-2M50.0 393.34h2M378.5 393.34h-2M50.0 391.83h4M378.5 391.83h-4M50.0 381.86h2M378.5 381.86h-2M50.0 376.03h2M378.5 376.03h-2M50.0 371.89h2M378.5 371.89h-2M50.0 368.68h2M378.5 368.68h-2M50.0 366.06h2M378.5 366.06h-2M50.0 363.84h2M378.5 363.84h-2M50.0 361.92h2M378.5 361.92h-2M50.0 360.23h2M378.5 360.23h-2M50.0 358.71h4M378.5 358.71h-4M50.0 348.75h2M378.5 348.75h-2M50.0 342.91h2M378.5 342.91h-2M50.0 338.78h2M378.5 338.78h-2M50.0 335.57h2M378.5 335.57h-2M50.0 332.95h2M378.5 332.95h-2M50.0 330.73h2M378.5 330.73h-2M50.0 328.81h2M378.5 328.81h-2M50.0 327.12h2M378.5 327.12h-2M50.0 325.60h4M378.5 325.60h-4M50.00 557.4v-3.5M50.00 325.6v3.5M183.27 557.4v-3.5M183.27 325.6v3.5M245.23 557.4v-3.5M245.23 325.6v3.5M286.05 557.4v-3.5M286.05 325.6v3.5M316.53 557.4v-3.5M316.53 325.6v3.5M340.88 557.4v-3.5M340.88 325.6v3.5M361.14 557.4v-3.5M361.14 325.6v3.5M378.50 557.4v-3.5M378.50 325.6v3.5M134.08 557.4v-2M134.08 325.6v2" stroke="#222" stroke-width="0.9" fill="none"/>
<rect x="50.0" y="325.6" width="328.5" height="231.79999999999995" fill="none" stroke="#1a1a1a" stroke-width="1.4"/>
<text x="27.2" y="527.79" class="tl">10</text><text x="37.9" y="522.09" class="ts">−4</text>
<text x="27.2" y="494.67" class="tl">10</text><text x="37.9" y="488.97" class="ts">−3</text>
<text x="27.2" y="461.56" class="tl">10</text><text x="37.9" y="455.86" class="ts">−2</text>
<text x="27.2" y="428.44" class="tl">10</text><text x="37.9" y="422.74" class="ts">−1</text>
<text x="27.2" y="395.33" class="tl">10</text><text x="37.9" y="389.63" class="ts">0</text>
<text x="27.2" y="362.21" class="tl">10</text><text x="37.9" y="356.51" class="ts">1</text>
<text x="27.2" y="329.10" class="tl">10</text><text x="37.9" y="323.40" class="ts">2</text>
<text x="51.20" y="569.10" class="tl xl" text-anchor="middle">0.1</text>
<text x="184.47" y="569.10" class="tl xl" text-anchor="middle">0.3</text>
<text x="246.43" y="569.10" class="tl xl" text-anchor="middle">0.5</text>
<text x="287.25" y="569.10" class="tl xl" text-anchor="middle">0.7</text>
<text x="317.73" y="569.10" class="tl xl" text-anchor="middle">0.9</text>
<text x="342.08" y="569.10" class="tl xl" text-anchor="middle">1.1</text>
<text x="362.34" y="569.10" class="tl xl" text-anchor="middle">1.3</text>
<text x="379.70" y="569.10" class="tl xl" text-anchor="middle">1.5</text>
<text x="218.4" y="590.00" class="al" text-anchor="middle">kHz</text>
<text transform="translate(16.2 451.50) rotate(-90)" class="al">Pa<tspan class="sup" dx="-0.9" dy="-6.8">2</tspan></text>
<text x="188.64" y="609.40" class="capb">(b)</text>
<text x="213.59" y="609.40" class="cap">Mic n.9</text>
<rect x="344.0" y="645.00" width="33.60" height="21.4" fill="#fff" stroke="#222" stroke-width="1.1"/>
<line x1="346.2" y1="650.60" x2="357.6" y2="650.60" stroke="#22a022" stroke-width="1"/>
<line x1="346.2" y1="660.60" x2="357.6" y2="660.60" stroke="#f22" stroke-width="1"/>
<text x="358.4" y="653.90" class="lg">MIC</text>
<text x="358.4" y="663.90" class="lg">PIV</text>
<path d="M50.0 874.60h4M378.5 874.60h-4M50.0 860.64h2M378.5 860.64h-2M50.0 852.48h2M378.5 852.48h-2M50.0 846.69h2M378.5 846.69h-2M50.0 842.20h2M378.5 842.20h-2M50.0 838.52h2M378.5 838.52h-2M50.0 835.42h2M378.5 835.42h-2M50.0 832.73h2M378.5 832.73h-2M50.0 830.36h2M378.5 830.36h-2M50.0 828.24h4M378.5 828.24h-4M50.0 814.28h2M378.5 814.28h-2M50.0 806.12h2M378.5 806.12h-2M50.0 800.33h2M378.5 800.33h-2M50.0 795.84h2M378.5 795.84h-2M50.0 792.16h2M378.5 792.16h-2M50.0 789.06h2M378.5 789.06h-2M50.0 786.37h2M378.5 786.37h-2M50.0 784.00h2M378.5 784.00h-2M50.0 781.88h4M378.5 781.88h-4M50.0 767.92h2M378.5 767.92h-2M50.0 759.76h2M378.5 759.76h-2M50.0 753.97h2M378.5 753.97h-2M50.0 749.48h2M378.5 749.48h-2M50.0 745.80h2M378.5 745.80h-2M50.0 742.70h2M378.5 742.70h-2M50.0 740.01h2M378.5 740.01h-2M50.0 737.64h2M378.5 737.64h-2M50.0 735.52h4M378.5 735.52h-4M50.0 721.56h2M378.5 721.56h-2M50.0 713.40h2M378.5 713.40h-2M50.0 707.61h2M378.5 707.61h-2M50.0 703.12h2M378.5 703.12h-2M50.0 699.44h2M378.5 699.44h-2M50.0 696.34h2M378.5 696.34h-2M50.0 693.65h2M378.5 693.65h-2M50.0 691.28h2M378.5 691.28h-2M50.0 689.16h4M378.5 689.16h-4M50.0 675.20h2M378.5 675.20h-2M50.0 667.04h2M378.5 667.04h-2M50.0 661.25h2M378.5 661.25h-2M50.0 656.76h2M378.5 656.76h-2M50.0 653.08h2M378.5 653.08h-2M50.0 649.98h2M378.5 649.98h-2M50.0 647.29h2M378.5 647.29h-2M50.0 644.92h2M378.5 644.92h-2M50.0 642.80h4M378.5 642.80h-4M50.00 874.6v-3.5M50.00 642.8v3.5M183.27 874.6v-3.5M183.27 642.8v3.5M245.23 874.6v-3.5M245.23 642.8v3.5M286.05 874.6v-3.5M286.05 642.8v3.5M316.53 874.6v-3.5M316.53 642.8v3.5M340.88 874.6v-3.5M340.88 642.8v3.5M361.14 874.6v-3.5M361.14 642.8v3.5M378.50 874.6v-3.5M378.50 642.8v3.5M134.08 874.6v-2M134.08 642.8v2" stroke="#222" stroke-width="0.9" fill="none"/>
<rect x="50.0" y="642.8" width="328.5" height="231.80000000000007" fill="none" stroke="#1a1a1a" stroke-width="1.4"/>
<text x="27.2" y="878.10" class="tl">10</text><text x="37.9" y="872.40" class="ts">−3</text>
<text x="27.2" y="831.74" class="tl">10</text><text x="37.9" y="826.04" class="ts">−2</text>
<text x="27.2" y="785.38" class="tl">10</text><text x="37.9" y="779.68" class="ts">−1</text>
<text x="27.2" y="739.02" class="tl">10</text><text x="37.9" y="733.32" class="ts">0</text>
<text x="27.2" y="692.66" class="tl">10</text><text x="37.9" y="686.96" class="ts">1</text>
<text x="27.2" y="646.30" class="tl">10</text><text x="37.9" y="640.60" class="ts">2</text>
<text x="51.20" y="886.30" class="tl xl" text-anchor="middle">0.1</text>
<text x="184.47" y="886.30" class="tl xl" text-anchor="middle">0.3</text>
<text x="246.43" y="886.30" class="tl xl" text-anchor="middle">0.5</text>
<text x="287.25" y="886.30" class="tl xl" text-anchor="middle">0.7</text>
<text x="317.73" y="886.30" class="tl xl" text-anchor="middle">0.9</text>
<text x="342.08" y="886.30" class="tl xl" text-anchor="middle">1.1</text>
<text x="362.34" y="886.30" class="tl xl" text-anchor="middle">1.3</text>
<text x="379.70" y="886.30" class="tl xl" text-anchor="middle">1.5</text>
<text x="218.4" y="907.20" class="al" text-anchor="middle">kHz</text>
<text transform="translate(16.2 768.70) rotate(-90)" class="al">Pa<tspan class="sup" dx="-0.9" dy="-6.8">2</tspan></text>
<text x="186.45" y="926.60" class="capb">(c)</text>
<text x="209.61" y="926.60" class="cap">Mic n.11</text>
<text x="258.3" y="53.6" class="an">454 Hz</text>
<line x1="255.20" y1="50.80" x2="237.91" y2="59.44" stroke="#222" stroke-width="1.05"/>
<path d="M233.80 61.50L237.06 57.74L238.76 61.14Z" fill="#222"/>
<text x="342.5" y="114.8" class="an">908 Hz</text>
<line x1="340.20" y1="111.60" x2="322.39" y2="119.70" stroke="#222" stroke-width="1.05"/>
<path d="M318.20 121.60L321.60 117.97L323.17 121.43Z" fill="#222"/>
<text x="258.1" y="351.6" class="an">454 Hz</text>
<line x1="255.50" y1="347.80" x2="237.75" y2="356.31" stroke="#222" stroke-width="1.05"/>
<path d="M233.60 358.30L236.93 354.60L238.57 358.02Z" fill="#222"/>
<text x="342.9" y="410.7" class="an">908 Hz</text>
<line x1="340.20" y1="407.60" x2="322.19" y2="415.71" stroke="#222" stroke-width="1.05"/>
<path d="M318.00 417.60L321.41 413.98L322.97 417.44Z" fill="#222"/>
<text x="258.4" y="662.5" class="an">454 Hz</text>
<line x1="255.70" y1="659.60" x2="238.60" y2="649.87" stroke="#222" stroke-width="1.05"/>
<path d="M234.60 647.60L239.54 648.22L237.66 651.53Z" fill="#222"/>
<text x="342.9" y="747.5" class="an">908 Hz</text>
<line x1="340.20" y1="744.80" x2="322.22" y2="752.57" stroke="#222" stroke-width="1.05"/>
<path d="M318.00 754.40L321.47 750.83L322.98 754.32Z" fill="#222"/>
</svg>
</body></html>
